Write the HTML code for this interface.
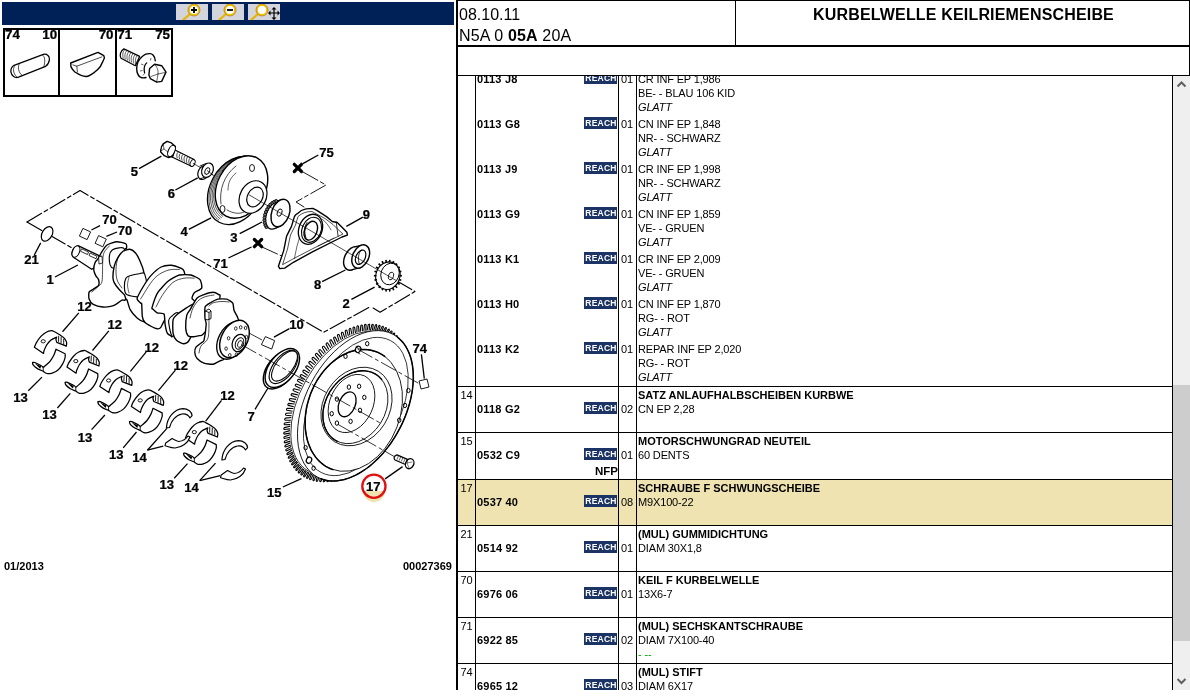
<!DOCTYPE html><html><head><meta charset="utf-8"><title>Kurbelwelle</title><style>
*{margin:0;padding:0;box-sizing:border-box}
html,body{width:1190px;height:700px;overflow:hidden;background:#fff}
body{position:relative;font-family:"Liberation Sans",sans-serif;color:#000}
.a{position:absolute}
.t{position:absolute;font-size:11px;line-height:14px;white-space:nowrap;letter-spacing:-0.15px}
.b{font-weight:bold;letter-spacing:0}
.pn{font-weight:bold;letter-spacing:0.2px}
.i{font-style:italic}
.bt{font-weight:bold;letter-spacing:0}
.rc{position:absolute;width:33px;height:12px;background:#1c3366;color:#fff;font-weight:bold;font-size:8.5px;line-height:12px;letter-spacing:0.25px;text-align:center;padding-left:1px}
.hl{position:absolute;background:#000}
.vl{position:absolute;background:#000}
.lbl{position:absolute;font-weight:bold;font-size:12px;line-height:12px;white-space:nowrap;transform-origin:0 0}
</style></head><body><div class="a" style="left:0;top:0;width:1190px;height:700px;overflow:hidden;will-change:transform">
<div class="a" style="left:2px;top:2px;width:452px;height:23px;background:#002157"></div>
<svg class="a" style="left:176px;top:4px" width="32" height="16" viewBox="0 0 32 16"><rect x="0" y="0" width="32" height="16" fill="#d4d4dc"/><line x1="14" y1="10" x2="7" y2="16" stroke="#e8b400" stroke-width="2.2"/><circle cx="18" cy="6" r="5" fill="#fff" stroke="#f2c200" stroke-width="1.8"/><circle cx="18" cy="6" r="6" fill="none" stroke="#a06a00" stroke-width="0.6"/><path d="M15 6H21M18 3V9" stroke="#000" stroke-width="1.8"/></svg>
<svg class="a" style="left:212px;top:4px" width="32" height="16" viewBox="0 0 32 16"><rect x="0" y="0" width="32" height="16" fill="#d4d4dc"/><line x1="14" y1="10" x2="7" y2="16" stroke="#e8b400" stroke-width="2.2"/><circle cx="18" cy="6" r="5" fill="#fff" stroke="#f2c200" stroke-width="1.8"/><circle cx="18" cy="6" r="6" fill="none" stroke="#a06a00" stroke-width="0.6"/><path d="M15 6H21" stroke="#000" stroke-width="1.8"/></svg>
<svg class="a" style="left:248px;top:4px" width="32" height="16" viewBox="0 0 32 16"><rect x="0" y="0" width="32" height="16" fill="#d4d4dc"/><line x1="10" y1="10" x2="3" y2="16" stroke="#e8b400" stroke-width="2.2"/><circle cx="14" cy="6" r="5" fill="#fff" stroke="#f2c200" stroke-width="1.8"/><circle cx="14" cy="6" r="6" fill="none" stroke="#a06a00" stroke-width="0.6"/><path d="M21 9H31M26 4V15" stroke="#000" stroke-width="1.2"/><path d="M20 9l2.5-2.5v5zM32 9l-2.5-2.5v5zM26 3l-2.5 2.5h5zM26 16l-2.5-2.5h5z" fill="#000"/></svg>
<div class="a" style="left:3px;top:28px;width:170px;height:69px;border:2px solid #000;border-top-width:2px"></div>
<div class="vl" style="left:58px;top:28px;width:2px;height:69px"></div>
<div class="vl" style="left:115px;top:28px;width:2px;height:69px"></div>
<svg class="a" style="left:0;top:0" width="456" height="700" viewBox="0 0 456 700"><text x="0" y="0" text-anchor="middle" transform="translate(12.5 39.1) scale(0.5573 0.5063)" font-family="Liberation Sans" font-weight="bold" font-size="24" stroke="#000" stroke-width="0.48">74</text><text x="0" y="0" text-anchor="middle" transform="translate(49.8 39.1) scale(0.5573 0.5063)" font-family="Liberation Sans" font-weight="bold" font-size="24" stroke="#000" stroke-width="0.48">10</text><text x="0" y="0" text-anchor="middle" transform="translate(106.1 39.1) scale(0.5573 0.5063)" font-family="Liberation Sans" font-weight="bold" font-size="24" stroke="#000" stroke-width="0.48">70</text><text x="0" y="0" text-anchor="middle" transform="translate(124.7 39.1) scale(0.5573 0.5063)" font-family="Liberation Sans" font-weight="bold" font-size="24" stroke="#000" stroke-width="0.48">71</text><text x="0" y="0" text-anchor="middle" transform="translate(162.6 39.1) scale(0.5573 0.5063)" font-family="Liberation Sans" font-weight="bold" font-size="24" stroke="#000" stroke-width="0.48">75</text><path d="M14.1,65.3 L43.4,54.4 C47,53.5 50,56.5 49.4,59.8 C49,62.5 47.5,65 45.6,66.3 L18.5,77.2 C15,78.3 11.5,76 10.9,71.8 C10.7,69 12,66.5 14.1,65.3 Z" fill="#fff" stroke="#000" stroke-width="1.26" stroke-linejoin="round" stroke-linecap="round"/><path d="M14.5,66 C12.8,68.5 13,73.5 16.5,76.5" fill="none" stroke="#000" stroke-width="0.7" stroke-linejoin="round" stroke-linecap="round"/><path d="M19.5,63.5 C17.5,66.5 18,72.5 22.3,75.6" fill="none" stroke="#000" stroke-width="0.7" stroke-linejoin="round" stroke-linecap="round"/><path d="M42.5,54.8 C45,56.5 45.5,61.5 43.8,66.8" fill="none" stroke="#000" stroke-width="0.7" stroke-linejoin="round" stroke-linecap="round"/><path d="M70.7,63 L98,52.4 L103.8,55.6 L104.4,57.9 C103,62 101,64.5 100.6,66.2 C98,69.5 96,71 94.1,72.6 C91,74.8 89,76.3 86.4,76.5 C84,76.6 82.5,76 80.6,75.2 C78.5,74 76.5,73 74.9,72 C73,70.5 71.8,68.5 71,66.9 Z" fill="#fff" stroke="#000" stroke-width="1.38" stroke-linejoin="round" stroke-linecap="round"/><path d="M72.9,64.9 L76.8,66.2 L101.8,56.9 M76.8,66.2 L77.4,72" fill="none" stroke="#000" stroke-width="0.7" stroke-linejoin="round" stroke-linecap="round"/><path d="M123.9,48.9 L139.6,56.4 L135.3,65.7 L121,58.2 C119.5,56 120,51 123.9,48.9 Z" fill="#fff" stroke="#000" stroke-width="1.26" stroke-linejoin="round" stroke-linecap="round"/><path d="M124.5,49.8 C122.6,52.0 122.3,55.5 123.3,58.6" fill="none" stroke="#000" stroke-width="0.6"/><path d="M126.6,50.8 C124.7,53.0 124.4,56.5 125.4,59.6" fill="none" stroke="#000" stroke-width="0.6"/><path d="M128.7,51.8 C126.8,54.0 126.5,57.5 127.5,60.6" fill="none" stroke="#000" stroke-width="0.6"/><path d="M130.8,52.8 C128.9,55.0 128.6,58.5 129.6,61.6" fill="none" stroke="#000" stroke-width="0.6"/><path d="M132.9,53.8 C131.0,56.0 130.7,59.5 131.7,62.6" fill="none" stroke="#000" stroke-width="0.6"/><path d="M135.0,54.8 C133.1,57.0 132.8,60.5 133.8,63.6" fill="none" stroke="#000" stroke-width="0.6"/><path d="M137.1,55.8 C135.2,58.0 134.9,61.5 135.9,64.6" fill="none" stroke="#000" stroke-width="0.6"/><path d="M155.3,60.7 C155,56 152,53.3 149.6,53.6 C146.5,53.4 144.5,54.5 143.1,55.7 C139,59 136.5,64 136.7,68.6 C136.8,73 138.5,76 140.3,77.1 C142,78 144.5,78 146,77.5" fill="none" stroke="#000" stroke-width="1.38" stroke-linejoin="round" stroke-linecap="round"/><path d="M146.7,62.9 C145,64.5 144,67 144.2,70 C144.3,71.5 144.5,72.5 144.6,72.9" fill="none" stroke="#000" stroke-width="1.26" stroke-linejoin="round" stroke-linecap="round"/><line x1="151.0" y1="58.0" x2="150.5" y2="60.5" stroke="#000" stroke-width="0.6"/><line x1="141.0" y1="64.0" x2="143.5" y2="65.0" stroke="#000" stroke-width="0.6"/><line x1="140.0" y1="71.0" x2="142.5" y2="70.5" stroke="#000" stroke-width="0.6"/><line x1="143.0" y1="75.5" x2="144.5" y2="73.5" stroke="#000" stroke-width="0.6"/><path d="M149.6,68.6 L154.6,64.3 L161.7,65.7 L166,72.1 L161.7,81.4 L156.7,82.1 L150.3,78.6 L148.9,75 Z" fill="#fff" stroke="#000" stroke-width="1.38" stroke-linejoin="round" stroke-linecap="round"/><path d="M154.6,64.3 C157,66.5 158.5,70 158,74 L156.7,82.1 M158,74 L165,72.5 M158,74 L151,76.5" fill="none" stroke="#000" stroke-width="0.6" stroke-linejoin="round" stroke-linecap="round"/><path d="M27.0,222.0 L80.0,190.5 L323.7,332.3 L369.6,307.1" fill="none" stroke="#000" stroke-width="1.15" stroke-dasharray="17 3 4 3" stroke-linejoin="round" stroke-linecap="round"/><path d="M27.0,222.0 L72.0,248.0" fill="none" stroke="#000" stroke-width="1.15" stroke-dasharray="17 3 4 3" stroke-linejoin="round" stroke-linecap="round"/><path d="M303.0,172.0 L326.0,185.0 L296.0,202.0 L304.0,207.0" fill="none" stroke="#000" stroke-width="0.9" stroke-dasharray="17 3 4 3" stroke-linejoin="round" stroke-linecap="round"/><path d="M262.0,247.0 L286.0,258.0" fill="none" stroke="#000" stroke-width="0.9" stroke-dasharray="17 3 4 3" stroke-linejoin="round" stroke-linecap="round"/><path d="M397.0,281.0 L414.9,291.5 L380.1,312.2 L373.1,308.1" fill="none" stroke="#000" stroke-width="1.15" stroke-dasharray="17 3 4 3" stroke-linejoin="round" stroke-linecap="round"/><path d="M171.4,148.2 L193.6,159.3 C195.5,161 195,166 191.5,166.3 L169.3,155.7 Z" fill="#fff" stroke="#000" stroke-width="1.26" stroke-linejoin="round" stroke-linecap="round"/><path d="M178.0,152.2 c-1.4,1.5 -1.6,4 -0.6,6" fill="none" stroke="#000" stroke-width="0.7"/><path d="M180.4,153.4 c-1.4,1.5 -1.6,4 -0.6,6" fill="none" stroke="#000" stroke-width="0.7"/><path d="M182.8,154.6 c-1.4,1.5 -1.6,4 -0.6,6" fill="none" stroke="#000" stroke-width="0.7"/><path d="M185.2,155.8 c-1.4,1.5 -1.6,4 -0.6,6" fill="none" stroke="#000" stroke-width="0.7"/><path d="M187.6,157.0 c-1.4,1.5 -1.6,4 -0.6,6" fill="none" stroke="#000" stroke-width="0.7"/><path d="M190.0,158.2 c-1.4,1.5 -1.6,4 -0.6,6" fill="none" stroke="#000" stroke-width="0.7"/><ellipse cx="192.6" cy="163.0" rx="2.2" ry="3.6" transform="rotate(25 192.6 163.0)" fill="#fff" stroke="#000" stroke-width="0.9"/><path d="M160.7,150.4 C161,147 162,145 163.2,143.9 L167.1,141.4 L171.4,142.9 L175.4,146.4 L175,148.2 L173,156 L168.6,157.6 L164.3,155.7 L160.7,152.1 Z" fill="#fff" stroke="#000" stroke-width="1.38" stroke-linejoin="round" stroke-linecap="round"/><path d="M163.2,143.9 L164,149 L160.7,151 M164,149 L168,152 L172,150.5 M168,152 L168.6,157.6" fill="none" stroke="#000" stroke-width="0.6" stroke-linejoin="round" stroke-linecap="round"/><ellipse cx="171.5" cy="151.0" rx="3.2" ry="6.0" transform="rotate(25 171.5 151.0)" fill="#fff" stroke="#000" stroke-width="1.1"/><line x1="192.9" y1="163.2" x2="213.6" y2="175.4" stroke="#000" stroke-width="0.7"/><ellipse cx="203.5" cy="172.5" rx="5.3" ry="7.3" transform="rotate(25 203.5 172.5)" fill="#fff" stroke="#000" stroke-width="1.21"/><path d="M200,166 L206,163.5 M199.5,179 L205.5,177" fill="none" stroke="#000" stroke-width="0.9" stroke-linejoin="round" stroke-linecap="round"/><ellipse cx="207.5" cy="170.2" rx="5.5" ry="7.5" transform="rotate(25 207.5 170.2)" fill="#fff" stroke="#000" stroke-width="1.21"/><ellipse cx="207.3" cy="171.0" rx="2.2" ry="3.4" transform="rotate(25 207.3 171.0)" fill="#fff" stroke="#000" stroke-width="0.9"/><line x1="207.0" y1="170.5" x2="213.6" y2="175.4" stroke="#000" stroke-width="0.7"/><line x1="197.7" y1="177.9" x2="175.4" y2="190.0" stroke="#000" stroke-width="1.3"/><text x="0" y="0" text-anchor="middle" transform="translate(171.4 197.5) scale(0.5439 0.5063)" font-family="Liberation Sans" font-weight="bold" font-size="24" stroke="#000" stroke-width="0.49">6</text><line x1="161.4" y1="156.1" x2="139.0" y2="168.6" stroke="#000" stroke-width="1.3"/><text x="0" y="0" text-anchor="middle" transform="translate(134.3 175.5) scale(0.5439 0.5063)" font-family="Liberation Sans" font-weight="bold" font-size="24" stroke="#000" stroke-width="0.49">5</text><ellipse cx="236.0" cy="190.5" rx="26.0" ry="36.0" transform="rotate(28 236.0 190.5)" fill="#fff" stroke="#000" stroke-width="1.32"/><path d="M218.6,219.9 L217.6,219.2 L216.8,218.4 L215.9,217.6 L215.1,216.8 L214.3,215.8 L213.6,214.9 L212.9,213.8 L212.3,212.8 L211.8,211.6 L211.2,210.5 L210.8,209.3 L210.4,208.0 L210.0,206.7 L209.7,205.4 L209.5,204.1 L209.3,202.7 L209.1,201.3 L209.1,199.9 L209.0,198.4 L209.1,196.9 L209.2,195.5 L209.3,194.0 L209.5,192.5 L209.8,190.9 L210.1,189.4 L210.5,187.9 L210.9,186.4 L211.4,184.9 L211.9,183.4 L212.5,182.0 L213.2,180.5 L213.8,179.1 L214.6,177.6 L215.3,176.3 L216.2,174.9 L217.0,173.5 L217.9,172.2 L218.9,171.0 L219.9,169.7 L220.9,168.6 L221.9,167.4 L223.0,166.3 L224.1,165.3 L225.2,164.3 L226.4,163.3 L227.6,162.4 L228.8,161.6 L230.0,160.8 L231.2,160.1 L232.5,159.4 L233.7,158.8 L235.0,158.3 L236.2,157.8 L237.5,157.4 L238.8,157.0 L240.0,156.8 L241.3,156.5 L242.5,156.4 L243.8,156.3 L245.0,156.3" fill="none" stroke="#000" stroke-width="0.7" stroke-linecap="round"/><path d="M220.0,218.7 L219.1,218.0 L218.2,217.3 L217.4,216.5 L216.6,215.6 L215.8,214.7 L215.1,213.7 L214.4,212.7 L213.8,211.7 L213.3,210.6 L212.8,209.4 L212.3,208.2 L211.9,207.0 L211.6,205.7 L211.3,204.4 L211.0,203.1 L210.8,201.8 L210.7,200.4 L210.6,199.0 L210.6,197.5 L210.6,196.1 L210.7,194.6 L210.9,193.2 L211.1,191.7 L211.3,190.2 L211.6,188.7 L212.0,187.2 L212.4,185.8 L212.9,184.3 L213.4,182.8 L214.0,181.4 L214.6,179.9 L215.3,178.5 L216.0,177.1 L216.8,175.8 L217.6,174.4 L218.4,173.1 L219.3,171.8 L220.3,170.6 L221.2,169.4 L222.2,168.2 L223.2,167.1 L224.3,166.0 L225.4,165.0 L226.5,164.0 L227.7,163.0 L228.8,162.2 L230.0,161.3 L231.2,160.6 L232.4,159.9 L233.6,159.2 L234.9,158.6 L236.1,158.1 L237.3,157.6 L238.6,157.2 L239.8,156.9 L241.1,156.6 L242.3,156.4 L243.5,156.3 L244.7,156.2 L245.9,156.2" fill="none" stroke="#000" stroke-width="0.7" stroke-linecap="round"/><path d="M221.4,217.5 L220.5,216.8 L219.6,216.1 L218.8,215.3 L218.0,214.4 L217.3,213.6 L216.6,212.6 L215.9,211.6 L215.3,210.6 L214.8,209.5 L214.3,208.4 L213.8,207.2 L213.4,206.0 L213.1,204.7 L212.8,203.5 L212.6,202.2 L212.4,200.8 L212.2,199.5 L212.2,198.1 L212.1,196.7 L212.2,195.3 L212.3,193.8 L212.4,192.4 L212.6,190.9 L212.9,189.5 L213.2,188.0 L213.5,186.6 L214.0,185.1 L214.4,183.7 L214.9,182.2 L215.5,180.8 L216.1,179.4 L216.8,178.0 L217.5,176.6 L218.2,175.3 L219.0,174.0 L219.9,172.7 L220.7,171.4 L221.6,170.2 L222.6,169.0 L223.6,167.8 L224.6,166.7 L225.6,165.7 L226.7,164.7 L227.8,163.7 L228.9,162.8 L230.1,161.9 L231.2,161.1 L232.4,160.3 L233.6,159.6 L234.8,159.0 L236.0,158.4 L237.2,157.9 L238.4,157.5 L239.7,157.1 L240.9,156.7 L242.1,156.5 L243.3,156.3 L244.5,156.1 L245.7,156.0 L246.9,156.0" fill="none" stroke="#000" stroke-width="0.7" stroke-linecap="round"/><path d="M222.8,216.3 L221.9,215.6 L221.1,214.9 L220.3,214.1 L219.5,213.3 L218.8,212.4 L218.1,211.5 L217.4,210.5 L216.9,209.5 L216.3,208.4 L215.8,207.3 L215.4,206.2 L215.0,205.0 L214.6,203.7 L214.3,202.5 L214.1,201.2 L213.9,199.9 L213.8,198.6 L213.7,197.2 L213.7,195.8 L213.7,194.4 L213.8,193.0 L214.0,191.6 L214.2,190.2 L214.4,188.7 L214.7,187.3 L215.1,185.9 L215.5,184.5 L215.9,183.0 L216.4,181.6 L217.0,180.2 L217.6,178.8 L218.2,177.5 L218.9,176.1 L219.7,174.8 L220.4,173.5 L221.3,172.2 L222.1,171.0 L223.0,169.8 L223.9,168.6 L224.9,167.5 L225.9,166.4 L226.9,165.4 L228.0,164.4 L229.1,163.4 L230.2,162.5 L231.3,161.7 L232.4,160.9 L233.6,160.1 L234.8,159.4 L235.9,158.8 L237.1,158.2 L238.3,157.7 L239.5,157.3 L240.7,156.9 L241.9,156.6 L243.1,156.3 L244.3,156.1 L245.5,156.0 L246.7,155.9 L247.9,155.9" fill="none" stroke="#000" stroke-width="0.7" stroke-linecap="round"/><ellipse cx="241.5" cy="187.0" rx="24.0" ry="33.0" transform="rotate(28 241.5 187.0)" fill="#fff" stroke="#000" stroke-width="1.43"/><path d="M221,204 C219,190 224,175 236,166" fill="none" stroke="#000" stroke-width="0.7" stroke-linejoin="round" stroke-linecap="round"/><path d="M228,190 C228,182 231,177 236,173" fill="none" stroke="#000" stroke-width="0.6" stroke-linejoin="round" stroke-linecap="round"/><path d="M227,210 C234,214 240,214 244,212" fill="none" stroke="#000" stroke-width="0.7" stroke-linejoin="round" stroke-linecap="round"/><ellipse cx="253.0" cy="197.0" rx="13.0" ry="17.0" transform="rotate(28 253.0 197.0)" fill="#fff" stroke="#000" stroke-width="1.21"/><ellipse cx="255.0" cy="197.0" rx="7.5" ry="10.5" transform="rotate(28 255.0 197.0)" fill="#fff" stroke="#000" stroke-width="1.21"/><ellipse cx="252" cy="168" rx="2.5" ry="3.5" fill="none" stroke="#000" stroke-width="0.9"/><ellipse cx="222.5" cy="209" rx="2.5" ry="3.5" fill="none" stroke="#000" stroke-width="0.9"/><line x1="211.1" y1="217.8" x2="188.8" y2="229.4" stroke="#000" stroke-width="1.3"/><text x="0" y="0" text-anchor="middle" transform="translate(184.0 236.3) scale(0.5439 0.5063)" font-family="Liberation Sans" font-weight="bold" font-size="24" stroke="#000" stroke-width="0.49">4</text><ellipse cx="275.0" cy="215.5" rx="8.8" ry="14.2" transform="rotate(20 275.0 215.5)" fill="#fff" stroke="#000" stroke-width="1.32"/><path d="M275.2,228.4 L280.7,225.9 L280.3,200.1 L274.8,202.6 Z" fill="#fff" stroke="none"/><line x1="275.2" y1="228.4" x2="280.7" y2="225.9" stroke="#000" stroke-width="1.3"/><line x1="280.3" y1="200.1" x2="274.8" y2="202.6" stroke="#000" stroke-width="1.3"/><circle cx="266.4" cy="227.0" r="1.5" fill="#777" stroke="#000" stroke-width="0.9"/><circle cx="265.4" cy="225.1" r="1.5" fill="#777" stroke="#000" stroke-width="0.9"/><circle cx="264.7" cy="222.8" r="1.5" fill="#777" stroke="#000" stroke-width="0.9"/><circle cx="264.4" cy="220.2" r="1.5" fill="#777" stroke="#000" stroke-width="0.9"/><circle cx="264.5" cy="217.5" r="1.5" fill="#777" stroke="#000" stroke-width="0.9"/><circle cx="265.0" cy="214.7" r="1.5" fill="#777" stroke="#000" stroke-width="0.9"/><circle cx="265.9" cy="211.9" r="1.5" fill="#777" stroke="#000" stroke-width="0.9"/><circle cx="267.1" cy="209.3" r="1.5" fill="#777" stroke="#000" stroke-width="0.9"/><circle cx="268.6" cy="206.8" r="1.5" fill="#777" stroke="#000" stroke-width="0.9"/><circle cx="270.3" cy="204.7" r="1.5" fill="#777" stroke="#000" stroke-width="0.9"/><circle cx="272.2" cy="203.0" r="1.5" fill="#777" stroke="#000" stroke-width="0.9"/><circle cx="274.2" cy="201.8" r="1.5" fill="#777" stroke="#000" stroke-width="0.9"/><circle cx="276.2" cy="201.0" r="1.5" fill="#777" stroke="#000" stroke-width="0.9"/><ellipse cx="280.5" cy="213.0" rx="8.8" ry="14.2" transform="rotate(20 280.5 213.0)" fill="#fff" stroke="#000" stroke-width="1.43"/><ellipse cx="279.6" cy="212.6" rx="2.3" ry="3.8" transform="rotate(20 279.6 212.6)" fill="#fff" stroke="#000" stroke-width="0.9"/><line x1="262.0" y1="222.0" x2="239.7" y2="233.7" stroke="#000" stroke-width="1.3"/><text x="0" y="0" text-anchor="middle" transform="translate(233.8 241.9) scale(0.5439 0.5063)" font-family="Liberation Sans" font-weight="bold" font-size="24" stroke="#000" stroke-width="0.49">3</text><path d="M294.29999999999995,164.3 L301.5,171.5 M301.5,164.3 L294.29999999999995,171.5" stroke="#000" stroke-width="3.2" stroke-linecap="round"/><path d="M254.4,239.5 L261.6,246.7 M261.6,239.5 L254.4,246.7" stroke="#000" stroke-width="3.2" stroke-linecap="round"/><line x1="302.9" y1="163.6" x2="318.3" y2="155.0" stroke="#000" stroke-width="1.3"/><text x="0" y="0" text-anchor="middle" transform="translate(326.5 156.5) scale(0.5439 0.5063)" font-family="Liberation Sans" font-weight="bold" font-size="24" stroke="#000" stroke-width="0.49">75</text><line x1="228.4" y1="258.0" x2="251.5" y2="247.0" stroke="#000" stroke-width="1.3"/><text x="0" y="0" text-anchor="middle" transform="translate(220.6 267.5) scale(0.5439 0.5063)" font-family="Liberation Sans" font-weight="bold" font-size="24" stroke="#000" stroke-width="0.49">71</text><path d="M278.4,266.2 L283.7,250.6 L286.6,236.1 L291.5,226.4 L294.4,216.6 C295.5,214.5 296.5,214 297.3,213.7 C300,211 303,209.5 306.1,208.9 L312.9,208.4 L316.8,210.3 L326.5,216.6 L332.3,221.5 L337.2,222.5 L342,227.3 L346.9,232.2 L347.4,235.1 L342,237 L312.9,251.6 L293.4,262.3 L284.7,268.1 L279.8,268.6 Z" fill="#fff" stroke="#000" stroke-width="1.38" stroke-linejoin="round" stroke-linecap="round"/><path d="M282.7,264.3 L287.5,249 L290.5,235 L295.5,225 L298,216.6 C302,213 306,211.5 312,211.5 L325,218.5 L333,224.5 L338,229.5 L343,234 L313,248.5 L292,259.5 Z" fill="none" stroke="#000" stroke-width="0.7" stroke-linejoin="round" stroke-linecap="round"/><path d="M336.2,221.8 L338.1,236.1" fill="none" stroke="#000" stroke-width="0.8" stroke-linejoin="round" stroke-linecap="round"/><path d="M294.4,258.4 L297,246 L300,236 M318,246 L334,238 M322,219 C326,222 329,226 331,230" fill="none" stroke="#000" stroke-width="0.6" stroke-linejoin="round" stroke-linecap="round"/><ellipse cx="310.5" cy="229.3" rx="11.5" ry="15.5" transform="rotate(22 310.5 229.3)" fill="#fff" stroke="#000" stroke-width="1.32"/><ellipse cx="311.5" cy="229.8" rx="9.5" ry="13.0" transform="rotate(22 311.5 229.8)" fill="#fff" stroke="#000" stroke-width="1.1"/><ellipse cx="310.8" cy="230.7" rx="6.2" ry="9.8" transform="rotate(22 310.8 230.7)" fill="#fff" stroke="#000" stroke-width="1.43"/><path d="M307,222.5 C304.5,226 304,232 306,238" fill="none" stroke="#000" stroke-width="0.9" stroke-linejoin="round" stroke-linecap="round"/><line x1="346.4" y1="226.4" x2="362.9" y2="217.1" stroke="#000" stroke-width="1.3"/><text x="0" y="0" text-anchor="middle" transform="translate(366.4 219.3) scale(0.5439 0.5063)" font-family="Liberation Sans" font-weight="bold" font-size="24" stroke="#000" stroke-width="0.49">9</text><ellipse cx="352.5" cy="258.5" rx="8.0" ry="12.3" transform="rotate(25 352.5 258.5)" fill="#fff" stroke="#000" stroke-width="1.43"/><path d="M351.2,269.9 L359.4,267.9 L362.0,245.1 L353.8,247.1 Z" fill="#fff" stroke="none"/><line x1="351.2" y1="269.9" x2="359.4" y2="267.9" stroke="#000" stroke-width="1.3"/><line x1="362.0" y1="245.1" x2="353.8" y2="247.1" stroke="#000" stroke-width="1.3"/><ellipse cx="360.7" cy="256.5" rx="8.0" ry="12.3" transform="rotate(25 360.7 256.5)" fill="#fff" stroke="#000" stroke-width="1.43"/><ellipse cx="360.6" cy="257.2" rx="4.6" ry="7.6" transform="rotate(25 360.6 257.2)" fill="#fff" stroke="#000" stroke-width="1.21"/><path d="M361.5,250 C358.2,252.5 357.5,259 359.5,264.5" fill="none" stroke="#000" stroke-width="0.8" stroke-linejoin="round" stroke-linecap="round"/><line x1="345.4" y1="270.0" x2="322.1" y2="281.7" stroke="#000" stroke-width="1.3"/><text x="0" y="0" text-anchor="middle" transform="translate(317.5 289.0) scale(0.5439 0.5063)" font-family="Liberation Sans" font-weight="bold" font-size="24" stroke="#000" stroke-width="0.49">8</text><ellipse cx="387.9" cy="275.7" rx="12.0" ry="14.0" transform="rotate(20 387.9 275.7)" fill="#fff" stroke="#000" stroke-width="1.1"/><line x1="399.4" y1="275.7" x2="401.9" y2="275.7" stroke="#000" stroke-width="1.6"/><line x1="398.9" y1="279.5" x2="401.3" y2="280.2" stroke="#000" stroke-width="1.6"/><line x1="397.6" y1="283.0" x2="399.7" y2="284.4" stroke="#000" stroke-width="1.6"/><line x1="395.4" y1="285.9" x2="397.1" y2="287.8" stroke="#000" stroke-width="1.6"/><line x1="392.7" y1="288.0" x2="393.7" y2="290.3" stroke="#000" stroke-width="1.6"/><line x1="389.5" y1="289.1" x2="389.9" y2="291.5" stroke="#000" stroke-width="1.6"/><line x1="386.3" y1="289.1" x2="385.9" y2="291.5" stroke="#000" stroke-width="1.6"/><line x1="383.1" y1="288.0" x2="382.1" y2="290.3" stroke="#000" stroke-width="1.6"/><line x1="380.4" y1="285.9" x2="378.7" y2="287.8" stroke="#000" stroke-width="1.6"/><line x1="378.2" y1="283.0" x2="376.1" y2="284.4" stroke="#000" stroke-width="1.6"/><line x1="376.9" y1="279.5" x2="374.5" y2="280.2" stroke="#000" stroke-width="1.6"/><line x1="376.4" y1="275.7" x2="373.9" y2="275.7" stroke="#000" stroke-width="1.6"/><line x1="376.9" y1="271.9" x2="374.5" y2="271.2" stroke="#000" stroke-width="1.6"/><line x1="378.2" y1="268.4" x2="376.1" y2="267.0" stroke="#000" stroke-width="1.6"/><line x1="380.4" y1="265.5" x2="378.7" y2="263.6" stroke="#000" stroke-width="1.6"/><line x1="383.1" y1="263.4" x2="382.1" y2="261.1" stroke="#000" stroke-width="1.6"/><line x1="386.3" y1="262.3" x2="385.9" y2="259.9" stroke="#000" stroke-width="1.6"/><line x1="389.5" y1="262.3" x2="389.9" y2="259.9" stroke="#000" stroke-width="1.6"/><line x1="392.7" y1="263.4" x2="393.7" y2="261.1" stroke="#000" stroke-width="1.6"/><line x1="395.4" y1="265.5" x2="397.1" y2="263.6" stroke="#000" stroke-width="1.6"/><line x1="397.6" y1="268.4" x2="399.7" y2="267.0" stroke="#000" stroke-width="1.6"/><line x1="398.9" y1="271.9" x2="401.3" y2="271.2" stroke="#000" stroke-width="1.6"/><ellipse cx="390.0" cy="274.0" rx="9.0" ry="11.0" transform="rotate(20 390.0 274.0)" fill="#fff" stroke="#000" stroke-width="0.9"/><ellipse cx="391.0" cy="276.0" rx="2.5" ry="4.0" transform="rotate(20 391.0 276.0)" fill="#fff" stroke="#000" stroke-width="0.8"/><line x1="249.0" y1="194.8" x2="397.0" y2="281.0" stroke="#000" stroke-width="0.7"/><line x1="374.6" y1="287.1" x2="351.4" y2="299.3" stroke="#000" stroke-width="1.3"/><text x="0" y="0" text-anchor="middle" transform="translate(346.1 307.9) scale(0.5439 0.5063)" font-family="Liberation Sans" font-weight="bold" font-size="24" stroke="#000" stroke-width="0.49">2</text><ellipse cx="47.1" cy="233.9" rx="5.0" ry="7.8" transform="rotate(30 47.1 233.9)" fill="#fff" stroke="#000" stroke-width="1.21"/><line x1="40.7" y1="242.9" x2="34.3" y2="255.0" stroke="#000" stroke-width="1.3"/><text x="0" y="0" text-anchor="middle" transform="translate(31.6 264.0) scale(0.5439 0.5063)" font-family="Liberation Sans" font-weight="bold" font-size="24" stroke="#000" stroke-width="0.49">21</text><path d="M82.9,228.4 L90.6,231.9 L87.1,239.6 L79.4,236.1 Z" fill="#fff" stroke="#000" stroke-width="0.9"/><path d="M98.6,235.6 L106.3,239.1 L102.8,246.8 L95.1,243.3 Z" fill="#fff" stroke="#000" stroke-width="0.9"/><line x1="91.4" y1="230.0" x2="100.0" y2="225.7" stroke="#000" stroke-width="1.3"/><text x="0" y="0" text-anchor="middle" transform="translate(109.4 223.9) scale(0.5439 0.5063)" font-family="Liberation Sans" font-weight="bold" font-size="24" stroke="#000" stroke-width="0.49">70</text><line x1="106.4" y1="236.4" x2="117.0" y2="232.0" stroke="#000" stroke-width="1.3"/><text x="0" y="0" text-anchor="middle" transform="translate(125.1 234.8) scale(0.5439 0.5063)" font-family="Liberation Sans" font-weight="bold" font-size="24" stroke="#000" stroke-width="0.49">70</text><path d="M78.6,245.9 L99,255.6 L97,266 L91.7,269.3 L73.4,257.3 C71,255.5 71,247.5 78.6,245.9 Z" fill="#fff" stroke="#000" stroke-width="1.26" stroke-linejoin="round" stroke-linecap="round"/><ellipse cx="76.0" cy="251.6" rx="3.4" ry="6.0" transform="rotate(22 76.0 251.6)" fill="#fff" stroke="#000" stroke-width="1.1"/><path d="M81.5,248.8 L88.5,252 L87.5,254.5 L80.5,251.3 Z M90,253 L97,256.2 L96,258.7 L89,255.5 Z" fill="#fff" stroke="#000" stroke-width="0.8"/><path d="M106.7,245.2 C108.5,243.9 114.1,242.0 116.3,241.8 C118.5,241.6 124.6,243.0 125.8,243.8 C127.0,244.6 126.6,247.6 126.4,248.6 C126.2,249.6 124.5,246.4 124.5,252.0 C124.5,257.6 126.3,291.4 126.0,297.0 C125.7,302.6 123.2,299.2 121.7,300.2 C120.2,301.2 115.7,304.9 113.5,305.7 C111.3,306.5 105.1,307.2 102.7,307.0 C100.3,306.8 94.8,305.2 93.2,304.3 C91.6,303.4 89.6,300.3 89.1,298.9 C88.6,297.5 88.6,293.2 89.1,292.1 C89.6,291.0 92.1,290.1 93.2,289.3 C94.3,288.5 98.0,286.4 98.6,285.3 C99.2,284.2 98.9,280.9 98.6,279.8 C98.3,278.7 96.5,276.9 95.9,275.8 C95.3,274.7 93.9,271.9 93.8,270.3 C93.7,268.7 94.6,263.6 95.2,262.2 C95.8,260.8 97.9,259.2 98.6,258.1 C99.3,257.0 100.4,254.2 101.3,252.7 C102.2,251.2 105.0,246.5 106.7,245.2 Z" fill="#fff" stroke="#000" stroke-width="1.38" stroke-linejoin="round" stroke-linecap="round"/><path d="M109.5,245.9 C108.6,247.0 105.1,250.0 104.0,252.7 C102.9,255.4 103.0,257.4 102.7,262.2 C102.4,266.9 102.8,277.1 102.0,281.2 C101.2,285.3 99.6,284.8 97.9,286.6 C96.2,288.4 92.8,291.2 91.8,292.1" fill="none" stroke="#000" stroke-width="0.7" stroke-linejoin="round" stroke-linecap="round"/><path d="M98.6,257 L102,256 L102.5,263 L99,264 Z" fill="#fff" stroke="#000" stroke-width="0.8"/><path d="M109.5,255.4 C109.8,253.4 110.9,251.0 112.2,250.0 C113.5,249.0 117.4,248.0 119.0,247.9 C120.6,247.8 123.6,246.6 124.4,249.3 C125.2,252.0 126.5,265.5 125.0,268.0 C123.5,270.5 115.5,268.7 113.5,268.3 C111.5,267.9 110.6,266.6 110.1,264.9 C109.6,263.2 109.2,257.4 109.5,255.4 Z" fill="#fff" stroke="#000" stroke-width="1.15" stroke-linejoin="round" stroke-linecap="round"/><path d="M123.0,251.3 C124.4,250.3 128.4,249.1 129.8,249.3 C131.2,249.5 134.2,251.5 135.3,252.7 C136.4,253.9 138.4,257.4 139.3,259.5 C140.2,261.6 142.7,267.3 143.4,270.3 C144.1,273.3 145.2,279.2 145.5,285.0 C145.8,290.8 146.6,315.9 146.3,320.1 C146.0,324.3 144.0,321.6 142.9,321.3 C141.8,321.0 138.6,319.2 137.1,317.9 C135.6,316.6 131.5,312.0 130.3,309.9 C129.1,307.8 127.6,301.5 127.1,300.2 C126.6,298.9 126.1,299.5 125.8,298.9 C125.5,298.3 125.2,295.9 124.4,294.8 C123.6,293.7 120.2,290.7 119.0,289.3 C117.8,287.9 114.9,284.0 114.2,282.6 C113.5,281.2 112.9,279.0 112.9,277.1 C112.9,275.2 113.7,268.5 114.2,266.3 C114.7,264.1 116.6,259.9 117.6,258.1 C118.6,256.4 121.6,252.3 123.0,251.3 Z" fill="#fff" stroke="#000" stroke-width="1.38" stroke-linejoin="round" stroke-linecap="round"/><path d="M120.0,254.0 C119.5,255.2 117.7,258.0 117.0,261.0 C116.3,264.0 115.9,268.7 116.0,272.0 C116.1,275.3 116.5,278.3 117.5,281.0 C118.5,283.7 121.2,286.8 122.0,288.0" fill="none" stroke="#000" stroke-width="0.7" stroke-linejoin="round" stroke-linecap="round"/><path d="M125.8,278.5 C126.5,277.1 128.0,276.4 129.8,275.8 C131.6,275.2 137.3,273.9 139.3,273.7 C141.3,273.5 143.8,271.4 144.8,274.4 C145.8,277.4 149.4,293.3 147.0,296.0 C144.6,298.7 130.1,296.1 127.1,294.8 C124.1,293.5 124.6,288.8 124.4,286.6 C124.2,284.4 125.1,279.9 125.8,278.5 Z" fill="#fff" stroke="#000" stroke-width="1.15" stroke-linejoin="round" stroke-linecap="round"/><path d="M129.0,277.0 C128.8,278.3 127.5,282.3 127.5,285.0 C127.5,287.7 128.8,291.7 129.0,293.0" fill="none" stroke="#000" stroke-width="0.6" stroke-linejoin="round" stroke-linecap="round"/><path d="M137.1,298.4 C137.4,296.5 141.4,289.7 143.0,287.0 C144.6,284.3 148.8,277.9 150.9,275.6 C153.0,273.3 158.7,268.2 161.1,267.0 C163.5,265.8 169.3,265.2 171.4,265.3 C173.5,265.4 177.9,266.9 179.4,267.6 C180.9,268.3 183.2,268.4 184.0,271.0 C184.8,273.6 188.1,284.5 186.0,290.0 C183.9,295.5 169.0,313.6 166.0,318.0 C163.0,322.4 161.6,326.4 160.6,327.7 C159.6,329.0 158.2,328.9 157.1,328.8 C156.0,328.7 152.9,327.3 151.4,326.5 C149.9,325.7 145.7,323.2 144.6,322.0 C143.5,320.8 142.6,318.4 142.3,316.3 C142.0,314.2 141.9,305.7 141.7,304.1 C141.5,302.5 141.1,303.7 140.6,303.0 C140.1,302.3 136.8,300.3 137.1,298.4 Z" fill="#fff" stroke="#000" stroke-width="1.38" stroke-linejoin="round" stroke-linecap="round"/><path d="M140.6,299.0 C142.9,295.6 149.7,283.3 154.3,278.5 C158.9,273.7 163.8,271.7 168.0,270.2 C172.2,268.7 177.5,269.7 179.4,269.6" fill="none" stroke="#000" stroke-width="0.7" stroke-linejoin="round" stroke-linecap="round"/><path d="M152.0,307.6 C152.5,305.9 156.1,295.3 157.7,292.7 C159.3,290.1 165.8,283.1 168.0,281.3 C170.2,279.5 177.1,275.6 179.4,275.0 C181.7,274.4 188.8,274.5 190.9,275.0 C193.0,275.5 198.9,278.3 200.0,279.6 C201.1,280.9 202.3,286.8 201.7,288.1 C201.1,289.4 195.3,291.7 194.3,292.7 C193.3,293.7 191.9,297.4 192.0,298.4 C192.1,299.4 195.6,301.0 195.4,303.0 C195.2,305.0 192.2,314.7 190.0,318.0 C187.8,321.3 174.9,334.2 173.0,336.0 C171.1,337.8 171.4,336.0 170.8,335.7 C170.2,335.4 168.0,334.5 167.4,333.4 C166.8,332.3 165.4,326.2 165.1,324.3 C164.8,322.4 164.8,315.1 164.0,314.0 C163.2,312.9 158.2,313.3 157.1,312.8 C156.0,312.3 153.6,309.8 153.1,309.3 C152.6,308.8 151.5,309.3 152.0,307.6 Z" fill="#fff" stroke="#000" stroke-width="1.38" stroke-linejoin="round" stroke-linecap="round"/><path d="M156.0,307.0 C157.1,305.1 159.5,299.4 162.3,295.3 C165.1,291.2 169.0,285.6 172.6,282.7 C176.2,279.8 180.4,278.9 184.0,278.2 C187.6,277.4 192.6,278.2 194.3,278.2" fill="none" stroke="#000" stroke-width="0.7" stroke-linejoin="round" stroke-linecap="round"/><path d="M168.6,320.8 C168.6,318.1 170.7,317.0 172.0,316.0 C173.3,315.0 176.9,311.1 178.0,313.0 C179.1,314.9 180.8,326.9 180.0,330.0 C179.2,333.1 173.5,337.2 172.0,336.0 C170.5,334.8 168.6,323.5 168.6,320.8 Z" fill="#fff" stroke="#000" stroke-width="1.15" stroke-linejoin="round" stroke-linecap="round"/><path d="M173.1,319.7 C173.6,317.4 176.2,315.3 177.7,314.0 C179.2,312.7 184.0,309.4 185.7,308.3 C187.4,307.2 191.3,304.7 192.5,304.3 C193.7,303.9 195.1,303.6 196.0,304.8 C196.9,306.0 200.8,310.9 200.0,315.0 C199.2,319.1 191.0,337.0 189.1,340.3 C187.2,343.6 184.9,343.7 183.4,343.7 C181.9,343.7 177.7,341.5 176.5,340.3 C175.3,339.1 173.5,335.8 173.1,333.4 C172.7,331.0 172.6,322.0 173.1,319.7 Z" fill="#fff" stroke="#000" stroke-width="1.38" stroke-linejoin="round" stroke-linecap="round"/><path d="M186.8,315.1 C187.3,313.0 189.1,311.4 190.3,309.4 C191.5,307.4 195.5,299.7 197.1,298.0 C198.7,296.3 202.1,295.3 204.0,294.6 C205.9,293.9 211.4,292.3 213.1,292.3 C214.8,292.3 218.0,294.1 218.8,294.6 C219.6,295.1 220.4,293.9 220.0,296.9 C219.6,299.9 217.0,315.6 215.0,320.0 C213.0,324.4 204.6,332.7 202.8,334.5 C201.0,336.3 200.5,335.4 199.4,335.7 C198.3,336.0 195.0,336.8 193.7,336.8 C192.4,336.8 188.9,336.8 188.0,335.7 C187.1,334.6 185.8,330.1 185.7,327.7 C185.6,325.3 186.3,317.2 186.8,315.1 Z" fill="#fff" stroke="#000" stroke-width="1.38" stroke-linejoin="round" stroke-linecap="round"/><path d="M190.0,318.0 C190.5,316.3 191.5,311.0 193.0,308.0 C194.5,305.0 196.8,301.9 199.0,300.0 C201.2,298.1 203.5,297.3 206.0,296.5 C208.5,295.7 212.7,295.2 214.0,295.0" fill="none" stroke="#000" stroke-width="0.7" stroke-linejoin="round" stroke-linecap="round"/><path d="M205.1,307.1 C205.7,305.5 209.5,303.4 210.8,302.6 C212.1,301.8 216.1,299.5 217.7,299.1 C219.3,298.8 225.3,298.7 226.8,299.1 C228.3,299.5 232.1,302.0 232.8,303.1 C233.5,304.2 233.5,308.9 234.0,310.3 C234.5,311.8 237.1,315.6 237.7,317.6 C238.3,319.6 241.3,326.0 240.0,330.0 C238.7,334.0 227.0,354.9 225.0,358.0 C223.0,361.1 221.2,360.2 220.0,360.8 C218.8,361.4 214.7,364.0 213.1,364.2 C211.5,364.4 205.6,363.7 204.0,363.1 C202.4,362.5 198.0,359.5 197.1,358.5 C196.2,357.5 194.9,353.9 194.8,352.8 C194.7,351.7 195.3,348.1 196.0,347.1 C196.7,346.1 200.9,343.2 201.7,342.5 C202.5,341.8 203.6,342.1 204.0,340.3 C204.4,338.5 206.1,326.5 206.2,324.3 C206.3,322.1 205.2,320.3 205.1,318.6 C205.0,316.9 204.5,308.7 205.1,307.1 Z" fill="#fff" stroke="#000" stroke-width="1.38" stroke-linejoin="round" stroke-linecap="round"/><path d="M209.0,306.0 C209.8,305.4 211.8,303.2 214.0,302.5 C216.2,301.8 219.5,301.6 222.0,301.5 C224.5,301.4 227.8,301.9 229.0,302.0" fill="none" stroke="#000" stroke-width="0.7" stroke-linejoin="round" stroke-linecap="round"/><path d="M209.0,320.0 C208.8,323.0 209.3,333.7 208.0,338.0 C206.7,342.3 202.5,343.5 201.0,346.0 C199.5,348.5 199.3,351.8 199.0,353.0" fill="none" stroke="#000" stroke-width="0.7" stroke-linejoin="round" stroke-linecap="round"/><path d="M205.1,311 L209,309 L211,311 L211,318.6 L207,320 L205.1,318.6 Z M205.1,311 L209,312.5 L211,311 M209,312.5 L209,320" fill="#fff" stroke="#000" stroke-width="0.9"/><ellipse cx="231.5" cy="340.5" rx="13.0" ry="20.0" transform="rotate(28 231.5 340.5)" fill="#fff" stroke="#000" stroke-width="1.32"/><ellipse cx="234.5" cy="339.0" rx="13.0" ry="20.0" transform="rotate(28 234.5 339.0)" fill="#fff" stroke="#000" stroke-width="1.43"/><ellipse cx="239.0" cy="343.0" rx="6.5" ry="9.0" transform="rotate(22 239.0 343.0)" fill="#fff" stroke="#000" stroke-width="1.21"/><ellipse cx="239.5" cy="343.5" rx="4.0" ry="6.0" transform="rotate(22 239.5 343.5)" fill="#fff" stroke="#000" stroke-width="0.9"/><ellipse cx="240.0" cy="344.0" rx="2.2" ry="3.6" transform="rotate(22 240.0 344.0)" fill="#fff" stroke="#000" stroke-width="0.8"/><ellipse cx="235.8" cy="328.5" rx="1.3" ry="1.7" fill="none" stroke="#000" stroke-width="0.8"/><ellipse cx="240.7" cy="327.3" rx="1.3" ry="1.7" fill="none" stroke="#000" stroke-width="0.8"/><ellipse cx="245.6" cy="328" rx="1.3" ry="1.7" fill="none" stroke="#000" stroke-width="0.8"/><ellipse cx="228.6" cy="338.3" rx="1.3" ry="1.7" fill="none" stroke="#000" stroke-width="0.8"/><ellipse cx="226.1" cy="348.6" rx="1.3" ry="1.7" fill="none" stroke="#000" stroke-width="0.8"/><ellipse cx="229.8" cy="355.2" rx="1.3" ry="1.7" fill="none" stroke="#000" stroke-width="0.8"/><ellipse cx="236.5" cy="354.6" rx="1.3" ry="1.7" fill="none" stroke="#000" stroke-width="0.8"/><ellipse cx="246.5" cy="337" rx="1.3" ry="1.7" fill="none" stroke="#000" stroke-width="0.8"/><line x1="55.0" y1="277.0" x2="77.9" y2="265.0" stroke="#000" stroke-width="1.3"/><text x="0" y="0" text-anchor="middle" transform="translate(50.0 284.4) scale(0.5439 0.5063)" font-family="Liberation Sans" font-weight="bold" font-size="24" stroke="#000" stroke-width="0.49">1</text><path d="M265.4,336.6 L274.6,340.6 L271.7,349.1 L261.4,344.6 Z" fill="#fff" stroke="#000" stroke-width="0.9"/><line x1="249.0" y1="333.0" x2="262.0" y2="340.0" stroke="#000" stroke-width="0.8"/><line x1="274.0" y1="337.1" x2="289.4" y2="328.6" stroke="#000" stroke-width="1.3"/><text x="0" y="0" text-anchor="middle" transform="translate(296.4 329.1) scale(0.5439 0.5063)" font-family="Liberation Sans" font-weight="bold" font-size="24" stroke="#000" stroke-width="0.49">10</text><ellipse cx="280.5" cy="369.5" rx="13.0" ry="22.5" transform="rotate(38 280.5 369.5)" fill="#fff" stroke="#000" stroke-width="1.43"/><ellipse cx="282.3" cy="368.0" rx="13.0" ry="22.5" transform="rotate(38 282.3 368.0)" fill="#fff" stroke="#000" stroke-width="1.43"/><ellipse cx="283.5" cy="367.0" rx="10.0" ry="19.5" transform="rotate(38 283.5 367.0)" fill="#fff" stroke="#000" stroke-width="1.1"/><ellipse cx="284.5" cy="366.0" rx="8.5" ry="18.0" transform="rotate(38 284.5 366.0)" fill="#fff" stroke="#000" stroke-width="1.1"/><line x1="268.0" y1="388.0" x2="255.0" y2="409.3" stroke="#000" stroke-width="1.3"/><text x="0" y="0" text-anchor="middle" transform="translate(251.1 420.8) scale(0.5439 0.5063)" font-family="Liberation Sans" font-weight="bold" font-size="24" stroke="#000" stroke-width="0.49">7</text><ellipse cx="346.5" cy="403.0" rx="54.0" ry="85.3" transform="rotate(29.3 346.5 403.0)" fill="#fff" stroke="#000" stroke-width="0"/><path d="M387.9,426.2 L392.7,429.5 Q393.2,431.1 391.6,431.4 L386.4,428.8 M385.4,430.5 L390.0,434.1 Q390.4,435.7 388.9,435.9 L383.8,433.0 M382.8,434.7 L387.1,438.5 Q387.5,440.2 385.9,440.3 L381.1,437.1 M380.0,438.7 L384.1,442.9 Q384.4,444.5 382.8,444.6 L378.2,441.1 M377.0,442.6 L380.9,447.0 Q381.1,448.7 379.6,448.6 L375.2,444.9 M374.0,446.3 L377.6,451.0 Q377.7,452.7 376.2,452.6 L372.1,448.5 M370.8,449.9 L374.1,454.8 Q374.2,456.5 372.7,456.3 L368.9,452.0 M367.6,453.3 L370.6,458.3 Q370.5,460.0 369.1,459.8 L365.6,455.2 M364.2,456.5 L366.9,461.7 Q366.8,463.4 365.4,463.0 L362.2,458.3 M360.8,459.4 L363.2,464.8 Q363.0,466.5 361.7,466.1 L358.7,461.1 M357.3,462.2 L359.4,467.7 Q359.1,469.4 357.8,468.8 L355.2,463.7 M353.8,464.7 L355.6,470.4 Q355.2,472.0 354.0,471.4 L351.7,466.1 M350.3,467.0 L351.7,472.7 Q351.2,474.3 350.1,473.6 L348.2,468.2 M346.7,469.0 L347.8,474.8 Q347.2,476.4 346.2,475.6 L344.6,470.1 M343.2,470.8 L343.9,476.6 Q343.2,478.2 342.3,477.3 L341.1,471.7 M339.6,472.3 L340.0,478.2 Q339.3,479.6 338.4,478.7 L337.5,473.0 M336.1,473.5 L336.1,479.4 Q335.3,480.8 334.5,479.8 L334.0,474.1 M332.7,474.4 L332.2,480.3 Q331.4,481.6 330.7,480.6 L330.6,474.8 M329.2,475.1 L328.5,480.9 Q327.6,482.2 326.9,481.1 L327.2,475.3 M325.9,475.5 L324.8,481.2 Q323.8,482.4 323.3,481.3 L323.9,475.5 M322.6,475.5 L321.1,481.2 Q320.2,482.3 319.7,481.1 L320.7,475.5 M319.4,475.3 L317.6,480.9 Q316.6,482.0 316.2,480.7 L317.6,475.1 M316.4,474.9 L314.2,480.3 Q313.1,481.3 312.9,479.9 L314.6,474.4 M313.4,474.1 L310.9,479.4 Q309.8,480.2 309.6,478.9 L311.7,473.5 M310.6,473.0 L307.8,478.1 Q306.6,478.9 306.6,477.6 L309.0,472.3 M307.9,471.7 L304.8,476.6 Q303.6,477.3 303.6,475.9 L306.4,470.8 M305.4,470.1 L302.0,474.8 Q300.8,475.4 300.9,474.0 L304.0,469.0 M303.0,468.3 L299.4,472.7 Q298.1,473.2 298.3,471.8 L301.7,467.0 M300.9,466.1 L296.9,470.3 Q295.6,470.7 295.9,469.3 L299.6,464.8 M298.8,463.8 L294.6,467.7 Q293.3,468.0 293.8,466.6 L297.7,462.2 M297.0,461.2 L292.6,464.8 Q291.3,465.0 291.8,463.6 L296.0,459.5 M295.4,458.3 L290.7,461.7 Q289.4,461.8 290.0,460.3 L294.5,456.5 M294.0,455.3 L289.1,458.3 Q287.8,458.3 288.5,456.9 L293.2,453.3 M292.8,452.0 L287.7,454.7 Q286.4,454.6 287.2,453.2 L292.1,450.0 M291.7,448.6 L286.5,450.9 Q285.3,450.7 286.1,449.3 L291.2,446.4 M291.0,444.9 L285.6,447.0 Q284.3,446.6 285.3,445.3 L290.6,442.7 M290.4,441.1 L284.9,442.8 Q283.7,442.4 284.7,441.1 L290.1,438.8 M290.0,437.2 L284.5,438.5 Q283.3,437.9 284.4,436.7 L289.9,434.7 M289.9,433.1 L284.3,434.1 Q283.1,433.4 284.3,432.2 L289.9,430.6 M290.0,428.9 L284.3,429.5 Q283.2,428.7 284.4,427.6 L290.2,426.3 M290.3,424.6 L284.6,424.8 Q283.5,424.0 284.8,422.9 L290.6,422.0 M290.9,420.2 L285.1,420.1 Q284.1,419.1 285.4,418.1 L291.3,417.5 M291.6,415.7 L285.9,415.2 Q284.9,414.2 286.3,413.2 L292.2,413.0 M292.6,411.2 L286.9,410.3 Q286.0,409.2 287.4,408.3 L293.3,408.5 M293.8,406.7 L288.2,405.4 Q287.3,404.2 288.7,403.4 L294.6,404.0 M295.2,402.1 L289.7,400.5 Q288.8,399.3 290.3,398.5 L296.1,399.4 M296.8,397.6 L291.4,395.6 Q290.6,394.3 292.1,393.6 L297.8,394.9 M298.6,393.0 L293.3,390.7 Q292.6,389.3 294.1,388.8 L299.8,390.3 M300.6,388.6 L295.4,385.9 Q294.8,384.5 296.3,384.0 L301.8,385.9 M302.7,384.1 L297.7,381.1 Q297.2,379.6 298.8,379.2 L304.1,381.5 M305.1,379.8 L300.3,376.5 Q299.8,374.9 301.4,374.6 L306.6,377.2 M307.6,375.5 L303.0,371.9 Q302.6,370.3 304.1,370.1 L309.2,373.0 M310.2,371.3 L305.9,367.5 Q305.5,365.8 307.1,365.7 L311.9,368.9 M313.0,367.3 L308.9,363.1 Q308.6,361.5 310.2,361.4 L314.8,364.9 M316.0,363.4 L312.1,359.0 Q311.9,357.3 313.4,357.4 L317.8,361.1 M319.0,359.7 L315.4,355.0 Q315.3,353.3 316.8,353.4 L320.9,357.5 M322.2,356.1 L318.9,351.2 Q318.8,349.5 320.3,349.7 L324.1,354.0 M325.4,352.7 L322.4,347.7 Q322.5,346.0 323.9,346.2 L327.4,350.8 M328.8,349.5 L326.1,344.3 Q326.2,342.6 327.6,343.0 L330.8,347.7 M332.2,346.6 L329.8,341.2 Q330.0,339.5 331.3,339.9 L334.3,344.9 M335.7,343.8 L333.6,338.3 Q333.9,336.6 335.2,337.2 L337.8,342.3 M339.2,341.3 L337.4,335.6 Q337.8,334.0 339.0,334.6 L341.3,339.9 M342.7,339.0 L341.3,333.3 Q341.8,331.7 342.9,332.4 L344.8,337.8 M346.3,337.0 L345.2,331.2 Q345.8,329.6 346.8,330.4 L348.4,335.9 M349.8,335.2 L349.1,329.4 Q349.8,327.8 350.7,328.7 L351.9,334.3 M353.4,333.7 L353.0,327.8 Q353.7,326.4 354.6,327.3 L355.5,333.0 M356.9,332.5 L356.9,326.6 Q357.7,325.2 358.5,326.2 L359.0,331.9 M360.3,331.6 L360.8,325.7 Q361.6,324.4 362.3,325.4 L362.4,331.2 M363.8,330.9 L364.5,325.1 Q365.4,323.8 366.1,324.9 L365.8,330.7 M367.1,330.5 L368.2,324.8 Q369.2,323.6 369.7,324.7 L369.1,330.5 M370.4,330.5 L371.9,324.8 Q372.8,323.7 373.3,324.9 L372.3,330.5 M373.6,330.7 L375.4,325.1 Q376.4,324.0 376.8,325.3 L375.4,330.9 M376.6,331.1 L378.8,325.7 Q379.9,324.7 380.1,326.1 L378.4,331.6 M379.6,331.9 L382.1,326.6 Q383.2,325.8 383.4,327.1 L381.3,332.5 M382.4,333.0 L385.2,327.9 Q386.4,327.1 386.4,328.4 L384.0,333.7 M385.1,334.3 L388.2,329.4 Q389.4,328.7 389.4,330.1 L386.6,335.2 M387.6,335.9 L391.0,331.2 Q392.2,330.6 392.1,332.0 L389.0,337.0 M390.0,337.7 L393.6,333.3 Q394.9,332.8 394.7,334.2 L391.3,339.0 M392.1,339.9 L396.1,335.7 Q397.4,335.3 397.1,336.7 L393.4,341.2 M394.2,342.2 L398.4,338.3 Q399.7,338.0 399.2,339.4 L395.3,343.8 M396.0,344.8 L400.4,341.2 Q401.7,341.0 401.2,342.4 L397.0,346.5 M397.6,347.7 L402.3,344.3 Q403.6,344.2 403.0,345.7 L398.5,349.5 M399.0,350.7 L403.9,347.7 Q405.2,347.7 404.5,349.1 L399.8,352.7 M400.2,354.0 L405.3,351.3 Q406.6,351.4 405.8,352.8 L400.9,356.0 M401.3,357.4 L406.5,355.1 Q407.7,355.3 406.9,356.7 L401.8,359.6 M402.0,361.1 L407.4,359.0 Q408.7,359.4 407.7,360.7 L402.4,363.3 M402.6,364.9 L408.1,363.2 Q409.3,363.6 408.3,364.9 L402.9,367.2 M403.0,368.8 L408.5,367.5 Q409.7,368.1 408.6,369.3 L403.1,371.3 M403.1,372.9 L408.7,371.9 Q409.9,372.6 408.7,373.8 L403.1,375.4 M403.0,377.1 L408.7,376.5 Q409.8,377.3 408.6,378.4 L402.8,379.7 M402.7,381.4 L408.4,381.2 Q409.5,382.0 408.2,383.1 L402.4,384.0 M402.1,385.8 L407.9,385.9 Q408.9,386.9 407.6,387.9 L401.7,388.5 M401.4,390.3 L407.1,390.8 Q408.1,391.8 406.7,392.8 L400.8,393.0 M400.4,394.8 L406.1,395.7 Q407.0,396.8 405.6,397.7 L399.7,397.5 M399.2,399.3 L404.8,400.6 Q405.7,401.8 404.3,402.6 L398.4,402.0 M397.8,403.9 L403.3,405.5 Q404.2,406.7 402.7,407.5 L396.9,406.6 M396.2,408.4 L401.6,410.4 Q402.4,411.7 400.9,412.4 L395.2,411.1 M394.4,413.0 L399.7,415.3 Q400.4,416.7 398.9,417.2 L393.2,415.7 M392.4,417.4 L397.6,420.1 Q398.2,421.5 396.7,422.0 L391.2,420.1 M390.3,421.9 L395.3,424.9 Q395.8,426.4 394.2,426.8 L388.9,424.5" fill="none" stroke="#000" stroke-width="1.1"/><ellipse cx="346.5" cy="403.0" rx="46.5" ry="78.0" transform="rotate(29.3 346.5 403.0)" fill="none" stroke="#000" stroke-width="0.7"/><ellipse cx="355.4" cy="405.8" rx="49.8" ry="80.8" transform="rotate(27.7 355.4 405.8)" fill="#fff" stroke="#000" stroke-width="0.8"/><path d="M397.4,337.1 L399.3,338.7 L401.1,340.4 L402.8,342.3 L404.4,344.4 L405.9,346.6 L407.2,349.0 L408.4,351.5 L409.5,354.1 L410.5,356.9 L411.3,359.8 L412.0,362.8 L412.5,365.9 L412.9,369.1 L413.2,372.4 L413.3,375.7 L413.3,379.2 L413.1,382.7 L412.8,386.3 L412.4,389.9 L411.8,393.5 L411.1,397.2 L410.2,400.9 L409.3,404.6 L408.1,408.3 L406.9,412.0 L405.5,415.7 L404.0,419.4 L402.4,423.1 L400.7,426.6 L398.8,430.2 L396.9,433.7 L394.8,437.1 L392.7,440.4 L390.5,443.7 L388.1,446.9 L385.7,449.9 L383.3,452.9 L380.7,455.7 L378.1,458.4 L375.4,461.0 L372.7,463.5 L370.0,465.8 L367.2,468.0 L364.4,470.0 L361.5,471.8 L358.7,473.5 L355.8,475.1 L352.9,476.4 L350.1,477.6 L347.2,478.6 L344.4,479.5 L341.6,480.1 L338.9,480.6 L336.1,480.9 L333.5,481.0 L330.8,480.9 L328.3,480.7 L325.8,480.2 L323.4,479.6 L321.0,478.8" fill="none" stroke="#000" stroke-width="1.5" stroke-linecap="round"/><ellipse cx="355.8" cy="406.5" rx="44.5" ry="74.5" transform="rotate(27.7 355.8 406.5)" fill="#fff" stroke="#000" stroke-width="0.7"/><ellipse cx="353.8" cy="410.4" rx="46.3" ry="62.8" transform="rotate(20.9 353.8 410.4)" fill="#fff" stroke="#000" stroke-width="0.8"/><path d="M332.9,469.6 L330.5,468.7 L328.1,467.6 L325.8,466.3 L323.6,464.9 L321.5,463.2 L319.5,461.4 L317.6,459.5 L315.8,457.4 L314.2,455.1 L312.6,452.7 L311.2,450.2 L310.0,447.5 L308.8,444.7 L307.8,441.8 L307.0,438.8 L306.3,435.7 L305.8,432.5 L305.4,429.3 L305.2,426.0 L305.1,422.7 L305.2,419.3 L305.4,415.9 L305.8,412.4 L306.3,409.0 L307.0,405.6 L307.9,402.1 L308.9,398.7 L310.0,395.4 L311.3,392.1 L312.7,388.8 L314.2,385.7 L315.9,382.5 L317.6,379.5 L319.5,376.6 L321.6,373.8 L323.7,371.1 L325.9,368.6 L328.2,366.1 L330.5,363.8 L333.0,361.7 L335.5,359.7 L338.1,357.9 L340.7,356.2 L343.4,354.7 L346.1,353.4 L348.8,352.3 L351.5,351.3 L354.3,350.6 L357.0,350.0 L359.8,349.6 L362.5,349.5 L365.2,349.5 L367.8,349.7 L370.4,350.1 L373.0,350.7 L375.5,351.5 L377.9,352.4 L380.3,353.6 L382.5,354.9 L384.7,356.4" fill="none" stroke="#000" stroke-width="1.5" stroke-linecap="round"/><ellipse cx="356.5" cy="406.5" rx="33.0" ry="41.5" transform="rotate(31.9 356.5 406.5)" fill="#fff" stroke="#000" stroke-width="0.8"/><ellipse cx="355.4" cy="407.2" rx="29.8" ry="38.7" transform="rotate(31.9 355.4 407.2)" fill="#fff" stroke="#000" stroke-width="0.8"/><path d="M337.2,441.3 L335.7,440.5 L334.2,439.6 L332.8,438.6 L331.5,437.4 L330.3,436.2 L329.1,434.9 L328.0,433.4 L327.1,431.9 L326.2,430.3 L325.4,428.6 L324.7,426.9 L324.1,425.1 L323.7,423.2 L323.3,421.3 L323.0,419.3 L322.9,417.3 L322.9,415.2 L322.9,413.1 L323.1,411.0 L323.4,408.9 L323.8,406.8 L324.3,404.7 L325.0,402.6 L325.7,400.5 L326.5,398.4 L327.4,396.4 L328.4,394.4 L329.5,392.4 L330.7,390.5 L332.0,388.6 L333.3,386.9 L334.8,385.1 L336.3,383.5 L337.8,381.9 L339.4,380.4 L341.1,379.0 L342.8,377.7 L344.6,376.5 L346.4,375.5 L348.2,374.5 L350.1,373.6 L352.0,372.8 L353.9,372.2 L355.8,371.7 L357.6,371.3 L359.5,371.0 L361.4,370.8 L363.2,370.8 L365.1,370.9 L366.9,371.1 L368.6,371.4 L370.3,371.8 L372.0,372.4 L373.6,373.1 L375.1,373.9 L376.6,374.8 L378.0,375.8 L379.3,377.0 L380.5,378.2 L381.7,379.5" fill="none" stroke="#000" stroke-width="1.4" stroke-linecap="round"/><ellipse cx="351.5" cy="403.5" rx="21.5" ry="30.5" transform="rotate(25 351.5 403.5)" fill="#fff" stroke="#000" stroke-width="0.8"/><ellipse cx="347.1" cy="404.3" rx="8.2" ry="13.0" transform="rotate(22 347.1 404.3)" fill="#fff" stroke="#000" stroke-width="1.32"/><ellipse cx="348.9" cy="387.1" rx="1.7" ry="2.2" fill="none" stroke="#000" stroke-width="1.0"/><ellipse cx="359.1" cy="386.3" rx="1.7" ry="2.2" fill="none" stroke="#000" stroke-width="1.0"/><ellipse cx="364.3" cy="397.4" rx="1.7" ry="2.2" fill="none" stroke="#000" stroke-width="1.0"/><ellipse cx="360" cy="410.3" rx="1.7" ry="2.2" fill="none" stroke="#000" stroke-width="1.0"/><ellipse cx="350.6" cy="421.4" rx="1.7" ry="2.2" fill="none" stroke="#000" stroke-width="1.0"/><ellipse cx="336.9" cy="423.1" rx="1.7" ry="2.2" fill="none" stroke="#000" stroke-width="1.0"/><ellipse cx="331.7" cy="413.7" rx="1.7" ry="2.2" fill="none" stroke="#000" stroke-width="1.0"/><ellipse cx="336.9" cy="399.1" rx="1.7" ry="2.2" fill="none" stroke="#000" stroke-width="1.0"/><ellipse cx="367.2" cy="343.7" rx="1.7" ry="2.2" fill="none" stroke="#000" stroke-width="1.0"/><ellipse cx="345.5" cy="356.3" rx="1.7" ry="2.2" fill="none" stroke="#000" stroke-width="1.0"/><ellipse cx="408.4" cy="390.5" rx="1.7" ry="2.2" fill="none" stroke="#000" stroke-width="1.0"/><ellipse cx="405" cy="405.4" rx="1.7" ry="2.2" fill="none" stroke="#000" stroke-width="1.0"/><ellipse cx="399.2" cy="420.2" rx="1.7" ry="2.2" fill="none" stroke="#000" stroke-width="1.0"/><ellipse cx="305.6" cy="447.7" rx="1.7" ry="2.2" fill="none" stroke="#000" stroke-width="1.0"/><ellipse cx="313.6" cy="468.2" rx="1.7" ry="2.2" fill="none" stroke="#000" stroke-width="1.0"/><ellipse cx="358.1" cy="349.4" rx="2.6" ry="3.2" transform="rotate(25 358.1 349.4)" fill="#fff" stroke="#000" stroke-width="1.21"/><path d="M356,347 L360.5,349.5 M355.6,351.5 L360,354" fill="none" stroke="#000" stroke-width="0.8" stroke-linejoin="round" stroke-linecap="round"/><ellipse cx="309.0" cy="460.2" rx="2.6" ry="3.2" transform="rotate(25 309.0 460.2)" fill="#fff" stroke="#000" stroke-width="1.21"/><line x1="301.4" y1="478.6" x2="282.9" y2="487.0" stroke="#000" stroke-width="1.3"/><text x="0" y="0" text-anchor="middle" transform="translate(274.2 497.2) scale(0.5439 0.5063)" font-family="Liberation Sans" font-weight="bold" font-size="24" stroke="#000" stroke-width="0.49">15</text><path d="M397,454.8 L407.5,459.3 L405.5,464.5 L395,460 C393.5,459 393.8,455.5 397,454.8 Z" fill="#fff" stroke="#000" stroke-width="1.26" stroke-linejoin="round" stroke-linecap="round"/><path d="M398.5,455.8 l-1.6,3.8" stroke="#000" stroke-width="0.6"/><path d="M400.7,456.8 l-1.6,3.8" stroke="#000" stroke-width="0.6"/><path d="M402.9,457.7 l-1.6,3.8" stroke="#000" stroke-width="0.6"/><path d="M405.1,458.7 l-1.6,3.8" stroke="#000" stroke-width="0.6"/><ellipse cx="409.7" cy="463.7" rx="4.0" ry="5.2" transform="rotate(25 409.7 463.7)" fill="#fff" stroke="#000" stroke-width="1.32"/><path d="M408,459 L407,463 L409,468 M407,463 L412,462" fill="none" stroke="#000" stroke-width="0.5" stroke-linejoin="round" stroke-linecap="round"/><line x1="402.6" y1="466.6" x2="385.1" y2="478.9" stroke="#000" stroke-width="1.3"/><path d="M419,381 L427,379 L429,387 L421,389 Z" fill="#fff" stroke="#000" stroke-width="0.9"/><line x1="424.3" y1="378.6" x2="421.4" y2="354.3" stroke="#000" stroke-width="1.3"/><text x="0" y="0" text-anchor="middle" transform="translate(419.8 352.7) scale(0.5439 0.5063)" font-family="Liberation Sans" font-weight="bold" font-size="24" stroke="#000" stroke-width="0.49">74</text><path d="M363,491 A11,11 0 0 0 385,491 Z" fill="#efe3b1"/><circle cx="373.9" cy="486.2" r="11.6" fill="none" stroke="#e01010" stroke-width="2.3"/><text x="0" y="0" text-anchor="middle" transform="translate(373.2 491.4) scale(0.5439 0.5063)" font-family="Liberation Sans" font-weight="bold" font-size="24" stroke="#000" stroke-width="0.49">17</text><line x1="241.4" y1="344.6" x2="382.0" y2="424.0" stroke="#000" stroke-width="0.8" stroke-dasharray="17 3 4 3"/><line x1="338.0" y1="424.4" x2="394.3" y2="456.6" stroke="#000" stroke-width="0.8" stroke-dasharray="17 3 4 3"/><line x1="357.5" y1="349.1" x2="418.2" y2="383.1" stroke="#000" stroke-width="0.8" stroke-dasharray="17 3 4 3"/><path d="M34.4,347.3 C34.7,346.6 35.2,344.6 36.3,342.8 C37.4,341.0 39.3,338.2 40.9,336.4 C42.6,334.6 44.4,333.1 46.2,332.2 C48.0,331.2 50.1,330.8 51.5,330.7 C52.9,330.6 53.1,331.1 54.5,331.8 C55.9,332.5 58.9,334.3 59.8,334.8 C60.6,335.4 63.3,337.0 64.4,338.3 C65.5,339.6 66.3,341.1 66.6,342.4 C66.9,343.7 66.4,345.6 66.3,346.2 L56.8,342.4 C56.7,341.9 56.0,340.3 56.0,339.4 C56.0,338.5 56.6,337.5 56.7,337.1 C55.7,337.6 52.3,338.9 50.7,340.2 C49.1,341.5 48.0,343.1 46.9,344.7 C45.8,346.3 44.9,348.6 44.3,350.0 C43.7,351.4 43.6,352.8 43.5,353.4 L34.4,347.3 Z" fill="#fff" stroke="#000" stroke-width="1.26" stroke-linejoin="round" stroke-linecap="round"/><line x1="58.7" y1="335.8" x2="58.5" y2="341.8" stroke="#000" stroke-width="0.9"/><line x1="61.2" y1="336.8" x2="61.0" y2="343.5" stroke="#000" stroke-width="0.9"/><line x1="63.7" y1="338.8" x2="63.7" y2="344.9" stroke="#000" stroke-width="0.9"/><ellipse cx="43.2" cy="341.3" rx="2.1" ry="1.6" fill="none" stroke="#000" stroke-width="0.9"/><path d="M56.0,349.2 L65.1,353.8 C65.1,354.4 65.5,356.0 65.1,357.6 C64.7,359.2 63.9,361.6 62.8,363.6 C61.7,365.6 60.1,368.1 58.3,369.7 C56.5,371.3 54.1,372.5 52.2,373.1 C50.3,373.7 48.4,373.8 46.9,373.5 C45.4,373.2 43.8,371.6 43.2,371.2 C42.3,370.8 39.5,369.9 37.8,368.9 C36.2,367.9 34.2,366.3 33.3,365.2 C32.4,364.1 32.6,362.9 32.5,362.5 C32.9,362.5 33.4,362.0 34.8,362.5 C36.2,363.0 39.5,364.7 40.9,365.5 C42.3,366.3 42.8,367.1 43.2,367.4 C43.5,367.2 43.6,367.3 44.7,366.3 C45.8,365.3 48.5,363.2 50.0,361.4 C51.5,359.6 52.8,357.3 53.8,355.3 C54.8,353.3 55.6,350.2 56.0,349.2 Z" fill="#fff" stroke="#000" stroke-width="1.26" stroke-linejoin="round" stroke-linecap="round"/><line x1="43.2" y1="367.4" x2="43.2" y2="371.2" stroke="#000" stroke-width="0.9"/><path d="M34.7,363.3 L40.2,368.8 L41.2,366.3 Z" fill="#000"/><path d="M67.0,367.1 C67.3,366.4 67.8,364.4 68.9,362.6 C70.0,360.8 71.8,358.0 73.5,356.2 C75.2,354.4 77.0,352.9 78.8,352.0 C80.6,351.1 82.7,350.6 84.1,350.5 C85.5,350.4 85.7,350.9 87.1,351.6 C88.5,352.3 91.5,354.1 92.4,354.6 C93.2,355.2 95.9,356.8 97.0,358.1 C98.1,359.4 98.9,360.9 99.2,362.2 C99.5,363.5 99.0,365.4 98.9,366.0 L89.4,362.2 C89.3,361.7 88.6,360.1 88.6,359.2 C88.6,358.3 89.2,357.3 89.3,356.9 C88.3,357.4 84.9,358.7 83.3,360.0 C81.7,361.3 80.6,362.9 79.5,364.5 C78.4,366.1 77.5,368.4 76.9,369.8 C76.3,371.2 76.2,372.6 76.1,373.2 L67.0,367.1 Z" fill="#fff" stroke="#000" stroke-width="1.26" stroke-linejoin="round" stroke-linecap="round"/><line x1="91.3" y1="355.6" x2="91.1" y2="361.6" stroke="#000" stroke-width="0.9"/><line x1="93.8" y1="356.6" x2="93.6" y2="363.3" stroke="#000" stroke-width="0.9"/><line x1="96.3" y1="358.6" x2="96.3" y2="364.7" stroke="#000" stroke-width="0.9"/><ellipse cx="75.8" cy="361.1" rx="2.1" ry="1.6" fill="none" stroke="#000" stroke-width="0.9"/><path d="M88.6,369.0 L97.7,373.6 C97.7,374.2 98.1,375.8 97.7,377.4 C97.3,379.0 96.5,381.4 95.4,383.4 C94.3,385.4 92.7,387.9 90.9,389.5 C89.1,391.1 86.7,392.3 84.8,392.9 C82.9,393.5 81.0,393.6 79.5,393.3 C78.0,393.0 76.4,391.4 75.8,391.0 C74.9,390.6 72.0,389.7 70.4,388.7 C68.7,387.7 66.8,386.1 65.9,385.0 C65.0,383.9 65.2,382.8 65.1,382.3 C65.5,382.3 66.0,381.8 67.4,382.3 C68.8,382.8 72.1,384.5 73.5,385.3 C74.9,386.1 75.4,386.9 75.8,387.2 C76.0,387.0 76.2,387.1 77.3,386.1 C78.4,385.1 81.1,383.0 82.6,381.2 C84.1,379.4 85.4,377.1 86.4,375.1 C87.4,373.1 88.2,370.0 88.6,369.0 Z" fill="#fff" stroke="#000" stroke-width="1.26" stroke-linejoin="round" stroke-linecap="round"/><line x1="75.8" y1="387.2" x2="75.8" y2="391.0" stroke="#000" stroke-width="0.9"/><path d="M67.3,383.1 L72.8,388.6 L73.8,386.1 Z" fill="#000"/><path d="M99.8,386.5 C100.1,385.8 100.6,383.8 101.7,382.0 C102.8,380.2 104.6,377.4 106.3,375.6 C108.0,373.8 109.8,372.3 111.6,371.4 C113.4,370.4 115.5,370.0 116.9,369.9 C118.3,369.8 118.5,370.3 119.9,371.0 C121.3,371.7 124.3,373.5 125.2,374.0 C126.0,374.6 128.7,376.2 129.8,377.5 C130.9,378.8 131.7,380.3 132.0,381.6 C132.3,382.9 131.8,384.8 131.7,385.4 L122.2,381.6 C122.1,381.1 121.4,379.5 121.4,378.6 C121.4,377.7 122.0,376.7 122.1,376.3 C121.1,376.8 117.7,378.1 116.1,379.4 C114.5,380.7 113.4,382.3 112.3,383.9 C111.2,385.5 110.3,387.8 109.7,389.2 C109.1,390.6 109.0,392.0 108.9,392.6 L99.8,386.5 Z" fill="#fff" stroke="#000" stroke-width="1.26" stroke-linejoin="round" stroke-linecap="round"/><line x1="124.1" y1="375.0" x2="123.9" y2="381.0" stroke="#000" stroke-width="0.9"/><line x1="126.6" y1="376.0" x2="126.4" y2="382.7" stroke="#000" stroke-width="0.9"/><line x1="129.1" y1="378.0" x2="129.1" y2="384.1" stroke="#000" stroke-width="0.9"/><ellipse cx="108.6" cy="380.5" rx="2.1" ry="1.6" fill="none" stroke="#000" stroke-width="0.9"/><path d="M121.4,388.4 L130.5,393.0 C130.5,393.6 130.9,395.2 130.5,396.8 C130.1,398.4 129.3,400.8 128.2,402.8 C127.1,404.8 125.5,407.3 123.7,408.9 C121.9,410.5 119.5,411.7 117.6,412.3 C115.7,412.9 113.8,413.0 112.3,412.7 C110.8,412.4 109.2,410.8 108.6,410.4 C107.7,410.0 104.8,409.1 103.2,408.1 C101.5,407.1 99.6,405.5 98.7,404.4 C97.8,403.3 98.0,402.1 97.9,401.7 C98.3,401.7 98.8,401.2 100.2,401.7 C101.6,402.2 104.9,403.9 106.3,404.7 C107.7,405.5 108.2,406.3 108.6,406.6 C108.8,406.4 109.0,406.5 110.1,405.5 C111.2,404.5 113.9,402.4 115.4,400.6 C116.9,398.8 118.2,396.5 119.2,394.5 C120.2,392.5 121.0,389.4 121.4,388.4 Z" fill="#fff" stroke="#000" stroke-width="1.26" stroke-linejoin="round" stroke-linecap="round"/><line x1="108.6" y1="406.6" x2="108.6" y2="410.4" stroke="#000" stroke-width="0.9"/><path d="M100.1,402.5 L105.6,408.0 L106.6,405.5 Z" fill="#000"/><path d="M131.4,406.4 C131.7,405.6 132.2,403.7 133.3,401.9 C134.4,400.1 136.2,397.3 137.9,395.5 C139.5,393.7 141.4,392.2 143.2,391.3 C145.0,390.3 147.1,389.9 148.5,389.8 C149.9,389.7 150.1,390.2 151.5,390.9 C152.9,391.6 155.9,393.4 156.8,393.9 C157.6,394.5 160.3,396.1 161.4,397.4 C162.5,398.7 163.3,400.2 163.6,401.5 C163.9,402.8 163.3,404.7 163.3,405.3 L153.8,401.5 C153.7,401.0 153.0,399.4 153.0,398.5 C153.0,397.6 153.6,396.6 153.7,396.2 C152.7,396.7 149.3,398.0 147.7,399.3 C146.1,400.6 145.0,402.2 143.9,403.8 C142.8,405.4 141.9,407.6 141.3,409.1 C140.7,410.5 140.6,411.9 140.5,412.5 L131.4,406.4 Z" fill="#fff" stroke="#000" stroke-width="1.26" stroke-linejoin="round" stroke-linecap="round"/><line x1="155.7" y1="394.9" x2="155.5" y2="400.9" stroke="#000" stroke-width="0.9"/><line x1="158.2" y1="395.9" x2="158.0" y2="402.6" stroke="#000" stroke-width="0.9"/><line x1="160.7" y1="397.9" x2="160.7" y2="404.0" stroke="#000" stroke-width="0.9"/><ellipse cx="140.2" cy="400.4" rx="2.1" ry="1.6" fill="none" stroke="#000" stroke-width="0.9"/><path d="M153.0,408.3 L162.1,412.9 C162.1,413.5 162.5,415.1 162.1,416.7 C161.7,418.3 160.9,420.7 159.8,422.7 C158.7,424.7 157.1,427.2 155.3,428.8 C153.5,430.4 151.1,431.6 149.2,432.2 C147.3,432.8 145.4,432.9 143.9,432.6 C142.4,432.3 140.8,430.7 140.2,430.3 C139.3,429.9 136.4,429.0 134.8,428.0 C133.1,427.0 131.2,425.4 130.3,424.3 C129.4,423.2 129.6,422.0 129.5,421.6 C129.9,421.6 130.4,421.1 131.8,421.6 C133.2,422.1 136.5,423.8 137.9,424.6 C139.3,425.4 139.8,426.2 140.2,426.5 C140.4,426.3 140.6,426.4 141.7,425.4 C142.8,424.4 145.5,422.3 147.0,420.5 C148.5,418.7 149.8,416.4 150.8,414.4 C151.8,412.4 152.6,409.3 153.0,408.3 Z" fill="#fff" stroke="#000" stroke-width="1.26" stroke-linejoin="round" stroke-linecap="round"/><line x1="140.2" y1="426.5" x2="140.2" y2="430.3" stroke="#000" stroke-width="0.9"/><path d="M131.7,422.4 L137.2,427.9 L138.2,425.4 Z" fill="#000"/><path d="M185.5,438.1 C185.8,437.4 186.3,435.4 187.4,433.6 C188.5,431.8 190.3,429.0 192.0,427.2 C193.7,425.4 195.5,423.9 197.3,423.0 C199.1,422.1 201.2,421.6 202.6,421.5 C204.0,421.4 204.2,421.9 205.6,422.6 C207.0,423.3 210.0,425.1 210.9,425.6 C211.7,426.2 214.4,427.8 215.5,429.1 C216.6,430.4 217.4,431.9 217.7,433.2 C218.0,434.5 217.5,436.4 217.4,437.0 L207.9,433.2 C207.8,432.7 207.1,431.1 207.1,430.2 C207.1,429.3 207.7,428.3 207.8,427.9 C206.8,428.4 203.4,429.7 201.8,431.0 C200.2,432.3 199.1,433.9 198.0,435.5 C196.9,437.1 196.0,439.4 195.4,440.8 C194.8,442.2 194.7,443.6 194.6,444.2 L185.5,438.1 Z" fill="#fff" stroke="#000" stroke-width="1.26" stroke-linejoin="round" stroke-linecap="round"/><line x1="209.8" y1="426.6" x2="209.6" y2="432.6" stroke="#000" stroke-width="0.9"/><line x1="212.3" y1="427.6" x2="212.1" y2="434.3" stroke="#000" stroke-width="0.9"/><line x1="214.8" y1="429.6" x2="214.8" y2="435.7" stroke="#000" stroke-width="0.9"/><ellipse cx="194.3" cy="432.1" rx="2.1" ry="1.6" fill="none" stroke="#000" stroke-width="0.9"/><path d="M207.1,440.0 L216.2,444.6 C216.2,445.2 216.6,446.8 216.2,448.4 C215.8,450.0 215.0,452.4 213.9,454.4 C212.8,456.4 211.2,458.9 209.4,460.5 C207.6,462.1 205.2,463.3 203.3,463.9 C201.4,464.5 199.5,464.6 198.0,464.3 C196.5,464.0 194.9,462.4 194.3,462.0 C193.4,461.6 190.6,460.7 188.9,459.7 C187.2,458.7 185.3,457.1 184.4,456.0 C183.5,454.9 183.7,453.8 183.6,453.3 C184.0,453.3 184.5,452.8 185.9,453.3 C187.3,453.8 190.6,455.5 192.0,456.3 C193.4,457.1 193.9,457.9 194.3,458.2 C194.6,458.0 194.7,458.1 195.8,457.1 C196.9,456.1 199.6,454.0 201.1,452.2 C202.6,450.4 203.9,448.1 204.9,446.1 C205.9,444.1 206.7,441.0 207.1,440.0 Z" fill="#fff" stroke="#000" stroke-width="1.26" stroke-linejoin="round" stroke-linecap="round"/><line x1="194.3" y1="458.2" x2="194.3" y2="462.0" stroke="#000" stroke-width="0.9"/><path d="M185.8,454.1 L191.3,459.6 L192.3,457.1 Z" fill="#000"/><path d="M166.4,427.9 C167,418 174,409 182.9,408.6 C188,408.6 192,412 192.1,415.7 L190,417.9 C188,414.5 185,413.5 182,414 C176,415 171,421 169.5,427.5 Z" fill="#fff" stroke="#000" stroke-width="1.15" stroke-linejoin="round" stroke-linecap="round"/><path d="M165,445.7 L165.7,442.9 L172.1,438.6 C175,440 177,441.5 179,441.5 C183,441 186,439 188,436 L190,437 C188,443 182,447.5 175,448 C171,448 168,446.5 165,445.7 Z" fill="#fff" stroke="#000" stroke-width="1.15" stroke-linejoin="round" stroke-linecap="round"/><path d="M221.9,459.9 C222.5,450 229.5,441 238.4,440.6 C243.5,440.6 247.5,444 247.6,447.7 L245.5,449.9 C243.5,446.5 240.5,445.5 237.5,446 C231.5,447 226.5,453 225.0,459.5 Z" fill="#fff" stroke="#000" stroke-width="1.15" stroke-linejoin="round" stroke-linecap="round"/><path d="M220.5,477.7 L221.2,474.9 L227.6,470.6 C230.5,472 232.5,473.5 234.5,473.5 C238.5,473 241.5,471 243.5,468 L245.5,469 C243.5,475 237.5,479.5 230.5,480 C226.5,480 223.5,478.5 220.5,477.7 Z" fill="#fff" stroke="#000" stroke-width="1.15" stroke-linejoin="round" stroke-linecap="round"/><line x1="78.8" y1="312.9" x2="62.5" y2="331.7" stroke="#000" stroke-width="1.3"/><line x1="108.8" y1="330.8" x2="92.5" y2="350.5" stroke="#000" stroke-width="1.3"/><line x1="146.2" y1="351.9" x2="130.4" y2="371.3" stroke="#000" stroke-width="1.3"/><line x1="175.4" y1="370.1" x2="158.4" y2="390.7" stroke="#000" stroke-width="1.3"/><line x1="221.5" y1="400.4" x2="205.7" y2="421.1" stroke="#000" stroke-width="1.3"/><line x1="28.3" y1="390.8" x2="42.0" y2="377.1" stroke="#000" stroke-width="1.3"/><line x1="57.4" y1="408.0" x2="70.3" y2="393.4" stroke="#000" stroke-width="1.3"/><line x1="91.6" y1="429.6" x2="104.9" y2="415.0" stroke="#000" stroke-width="1.3"/><line x1="123.2" y1="447.8" x2="136.5" y2="432.0" stroke="#000" stroke-width="1.3"/><line x1="174.2" y1="478.2" x2="187.5" y2="463.6" stroke="#000" stroke-width="1.3"/><line x1="147.4" y1="450.2" x2="166.9" y2="428.4" stroke="#000" stroke-width="1.3"/><line x1="147.4" y1="450.2" x2="163.2" y2="446.1" stroke="#000" stroke-width="1.3"/><line x1="199.7" y1="480.6" x2="215.5" y2="463.1" stroke="#000" stroke-width="1.3"/><line x1="199.7" y1="480.6" x2="220.3" y2="475.7" stroke="#000" stroke-width="1.3"/><text x="0" y="0" text-anchor="middle" transform="translate(84.4 311.0) scale(0.5439 0.5063)" font-family="Liberation Sans" font-weight="bold" font-size="24" stroke="#000" stroke-width="0.49">12</text><text x="0" y="0" text-anchor="middle" transform="translate(114.8 329.2) scale(0.5439 0.5063)" font-family="Liberation Sans" font-weight="bold" font-size="24" stroke="#000" stroke-width="0.49">12</text><text x="0" y="0" text-anchor="middle" transform="translate(151.7 352.1) scale(0.5439 0.5063)" font-family="Liberation Sans" font-weight="bold" font-size="24" stroke="#000" stroke-width="0.49">12</text><text x="0" y="0" text-anchor="middle" transform="translate(180.8 369.6) scale(0.5439 0.5063)" font-family="Liberation Sans" font-weight="bold" font-size="24" stroke="#000" stroke-width="0.49">12</text><text x="0" y="0" text-anchor="middle" transform="translate(227.4 400.1) scale(0.5439 0.5063)" font-family="Liberation Sans" font-weight="bold" font-size="24" stroke="#000" stroke-width="0.49">12</text><text x="0" y="0" text-anchor="middle" transform="translate(20.5 401.9) scale(0.5439 0.5063)" font-family="Liberation Sans" font-weight="bold" font-size="24" stroke="#000" stroke-width="0.49">13</text><text x="0" y="0" text-anchor="middle" transform="translate(49.6 419.1) scale(0.5439 0.5063)" font-family="Liberation Sans" font-weight="bold" font-size="24" stroke="#000" stroke-width="0.49">13</text><text x="0" y="0" text-anchor="middle" transform="translate(84.9 441.5) scale(0.5439 0.5063)" font-family="Liberation Sans" font-weight="bold" font-size="24" stroke="#000" stroke-width="0.49">13</text><text x="0" y="0" text-anchor="middle" transform="translate(116.2 458.5) scale(0.5439 0.5063)" font-family="Liberation Sans" font-weight="bold" font-size="24" stroke="#000" stroke-width="0.49">13</text><text x="0" y="0" text-anchor="middle" transform="translate(166.8 489.2) scale(0.5439 0.5063)" font-family="Liberation Sans" font-weight="bold" font-size="24" stroke="#000" stroke-width="0.49">13</text><text x="0" y="0" text-anchor="middle" transform="translate(139.6 461.6) scale(0.5439 0.5063)" font-family="Liberation Sans" font-weight="bold" font-size="24" stroke="#000" stroke-width="0.49">14</text><text x="0" y="0" text-anchor="middle" transform="translate(191.6 492.2) scale(0.5439 0.5063)" font-family="Liberation Sans" font-weight="bold" font-size="24" stroke="#000" stroke-width="0.49">14</text></svg>
<div class="lbl" style="left:4px;top:562px;font-size:22px;line-height:22px;transform:scale(0.5,0.47)">01/2013</div>
<div class="lbl" style="left:403px;top:562px;font-size:22px;line-height:22px;transform:scale(0.5,0.47)">00027369</div>
<div class="hl" style="left:456px;top:0;width:734px;height:1px"></div>
<div class="vl" style="left:456px;top:0;width:2px;height:690px"></div>
<div class="vl" style="left:1189px;top:0;width:1px;height:76px"></div>
<div class="vl" style="left:735px;top:0;width:1px;height:46px"></div>
<div class="hl" style="left:456px;top:45px;width:734px;height:2px"></div>
<div class="hl" style="left:456px;top:75px;width:734px;height:1px"></div>
<div class="t" style="left:459px;top:5px;font-size:16px;line-height:20px;letter-spacing:0">08.10.11</div>
<div class="t" style="left:459px;top:26px;font-size:16px;line-height:20px;letter-spacing:0.15px">N5A 0 <b>05A</b> 20A</div>
<div class="t b" style="left:813px;top:5px;font-size:16px;line-height:20px;letter-spacing:0.17px">KURBELWELLE KEILRIEMENSCHEIBE</div>
<div class="a" style="left:458px;top:76px;width:732px;height:614px;overflow:hidden">
<div class="t pn" style="left:19px;top:-4.5px">0113 J8</div>
<div class="rc" style="left:126px;top:-4.0px">REACH</div>
<div class="t " style="left:163px;top:-4.5px">01</div>
<div class="t " style="left:180px;top:-4.5px">CR INF EP 1,986</div>
<div class="t " style="left:180px;top:9.5px">BE- - BLAU 106 KID</div>
<div class="t i" style="left:180px;top:23.5px">GLATT</div>
<div class="t pn" style="left:19px;top:40.5px">0113 G8</div>
<div class="rc" style="left:126px;top:41.0px">REACH</div>
<div class="t " style="left:163px;top:40.5px">01</div>
<div class="t " style="left:180px;top:40.5px">CN INF EP 1,848</div>
<div class="t " style="left:180px;top:54.5px">NR- - SCHWARZ</div>
<div class="t i" style="left:180px;top:68.5px">GLATT</div>
<div class="t pn" style="left:19px;top:85.5px">0113 J9</div>
<div class="rc" style="left:126px;top:86.0px">REACH</div>
<div class="t " style="left:163px;top:85.5px">01</div>
<div class="t " style="left:180px;top:85.5px">CR INF EP 1,998</div>
<div class="t " style="left:180px;top:99.5px">NR- - SCHWARZ</div>
<div class="t i" style="left:180px;top:113.5px">GLATT</div>
<div class="t pn" style="left:19px;top:130.5px">0113 G9</div>
<div class="rc" style="left:126px;top:131.0px">REACH</div>
<div class="t " style="left:163px;top:130.5px">01</div>
<div class="t " style="left:180px;top:130.5px">CN INF EP 1,859</div>
<div class="t " style="left:180px;top:144.5px">VE- - GRUEN</div>
<div class="t i" style="left:180px;top:158.5px">GLATT</div>
<div class="t pn" style="left:19px;top:175.5px">0113 K1</div>
<div class="rc" style="left:126px;top:176.0px">REACH</div>
<div class="t " style="left:163px;top:175.5px">01</div>
<div class="t " style="left:180px;top:175.5px">CR INF EP 2,009</div>
<div class="t " style="left:180px;top:189.5px">VE- - GRUEN</div>
<div class="t i" style="left:180px;top:203.5px">GLATT</div>
<div class="t pn" style="left:19px;top:220.5px">0113 H0</div>
<div class="rc" style="left:126px;top:221.0px">REACH</div>
<div class="t " style="left:163px;top:220.5px">01</div>
<div class="t " style="left:180px;top:220.5px">CN INF EP 1,870</div>
<div class="t " style="left:180px;top:234.5px">RG- - ROT</div>
<div class="t i" style="left:180px;top:248.5px">GLATT</div>
<div class="t pn" style="left:19px;top:265.5px">0113 K2</div>
<div class="rc" style="left:126px;top:266.0px">REACH</div>
<div class="t " style="left:163px;top:265.5px">01</div>
<div class="t " style="left:180px;top:265.5px">REPAR INF EP 2,020</div>
<div class="t " style="left:180px;top:279.5px">RG- - ROT</div>
<div class="t i" style="left:180px;top:293.5px">GLATT</div>
<div class="a" style="left:0;top:404px;width:714px;height:45px;background:#efe3b1"></div>
<div class="hl" style="left:0;top:310px;width:714px;height:1px"></div>
<div class="hl" style="left:0;top:356px;width:714px;height:1px"></div>
<div class="hl" style="left:0;top:403px;width:714px;height:1px"></div>
<div class="hl" style="left:0;top:449px;width:714px;height:1px"></div>
<div class="hl" style="left:0;top:495px;width:714px;height:1px"></div>
<div class="hl" style="left:0;top:541px;width:714px;height:1px"></div>
<div class="hl" style="left:0;top:587px;width:714px;height:1px"></div>
<div class="vl" style="left:17px;top:0;width:1px;height:614px"></div>
<div class="vl" style="left:160px;top:0;width:1px;height:614px"></div>
<div class="vl" style="left:178px;top:0;width:1px;height:614px"></div>
<div class="vl" style="left:714px;top:0;width:1px;height:614px"></div>
<div class="t " style="left:2.5px;top:311.5px">14</div>
<div class="t bt" style="left:180px;top:311.5px">SATZ ANLAUFHALBSCHEIBEN KURBWE</div>
<div class="t pn" style="left:19px;top:325.5px">0118 G2</div>
<div class="rc" style="left:126px;top:326.0px">REACH</div>
<div class="t " style="left:163px;top:325.5px">02</div>
<div class="t " style="left:180px;top:325.5px">CN EP 2,28</div>
<div class="t " style="left:2.5px;top:357.5px">15</div>
<div class="t bt" style="left:180px;top:357.5px">MOTORSCHWUNGRAD NEUTEIL</div>
<div class="t pn" style="left:19px;top:371.5px">0532 C9</div>
<div class="rc" style="left:126px;top:372.0px">REACH</div>
<div class="t " style="left:163px;top:371.5px">01</div>
<div class="t " style="left:180px;top:371.5px">60 DENTS</div>
<div class="t b" style="left:0;width:160px;text-align:right;top:387.5px;font-size:11.5px;letter-spacing:0">NFP</div>
<div class="t " style="left:2.5px;top:404.5px">17</div>
<div class="t bt" style="left:180px;top:404.5px">SCHRAUBE F SCHWUNGSCHEIBE</div>
<div class="t pn" style="left:19px;top:418.5px">0537 40</div>
<div class="rc" style="left:126px;top:419.0px">REACH</div>
<div class="t " style="left:163px;top:418.5px">08</div>
<div class="t " style="left:180px;top:418.5px">M9X100-22</div>
<div class="t " style="left:2.5px;top:450.5px">21</div>
<div class="t bt" style="left:180px;top:450.5px">(MUL) GUMMIDICHTUNG</div>
<div class="t pn" style="left:19px;top:464.5px">0514 92</div>
<div class="rc" style="left:126px;top:465.0px">REACH</div>
<div class="t " style="left:163px;top:464.5px">01</div>
<div class="t " style="left:180px;top:464.5px">DIAM 30X1,8</div>
<div class="t " style="left:2.5px;top:496.5px">70</div>
<div class="t bt" style="left:180px;top:496.5px">KEIL F KURBELWELLE</div>
<div class="t pn" style="left:19px;top:510.5px">6976 06</div>
<div class="rc" style="left:126px;top:511.0px">REACH</div>
<div class="t " style="left:163px;top:510.5px">01</div>
<div class="t " style="left:180px;top:510.5px">13X6-7</div>
<div class="t " style="left:2.5px;top:542.5px">71</div>
<div class="t bt" style="left:180px;top:542.5px">(MUL) SECHSKANTSCHRAUBE</div>
<div class="t pn" style="left:19px;top:556.5px">6922 85</div>
<div class="rc" style="left:126px;top:557.0px">REACH</div>
<div class="t " style="left:163px;top:556.5px">02</div>
<div class="t " style="left:180px;top:556.5px">DIAM 7X100-40</div>
<div class="t " style="left:180px;top:570.5px"><span style="color:#00a000">- --</span></div>
<div class="t " style="left:2.5px;top:588.5px">74</div>
<div class="t bt" style="left:180px;top:588.5px">(MUL) STIFT</div>
<div class="t pn" style="left:19px;top:602.5px">6965 12</div>
<div class="rc" style="left:126px;top:603.0px">REACH</div>
<div class="t " style="left:163px;top:602.5px">03</div>
<div class="t " style="left:180px;top:602.5px">DIAM 6X17</div>
<div class="a" style="left:715px;top:0;width:17px;height:614px;background:#efefef"></div>
<div class="a" style="left:715px;top:309px;width:17px;height:256px;background:#cdcdcd"></div>
<svg class="a" style="left:715px;top:0" width="17" height="614"><path d="M4.5 10.5L8.5 6.5L12.5 10.5" fill="none" stroke="#606060" stroke-width="2"/><path d="M4.5 603L8.5 607L12.5 603" fill="none" stroke="#606060" stroke-width="2"/></svg>
</div>
</div></body></html>
